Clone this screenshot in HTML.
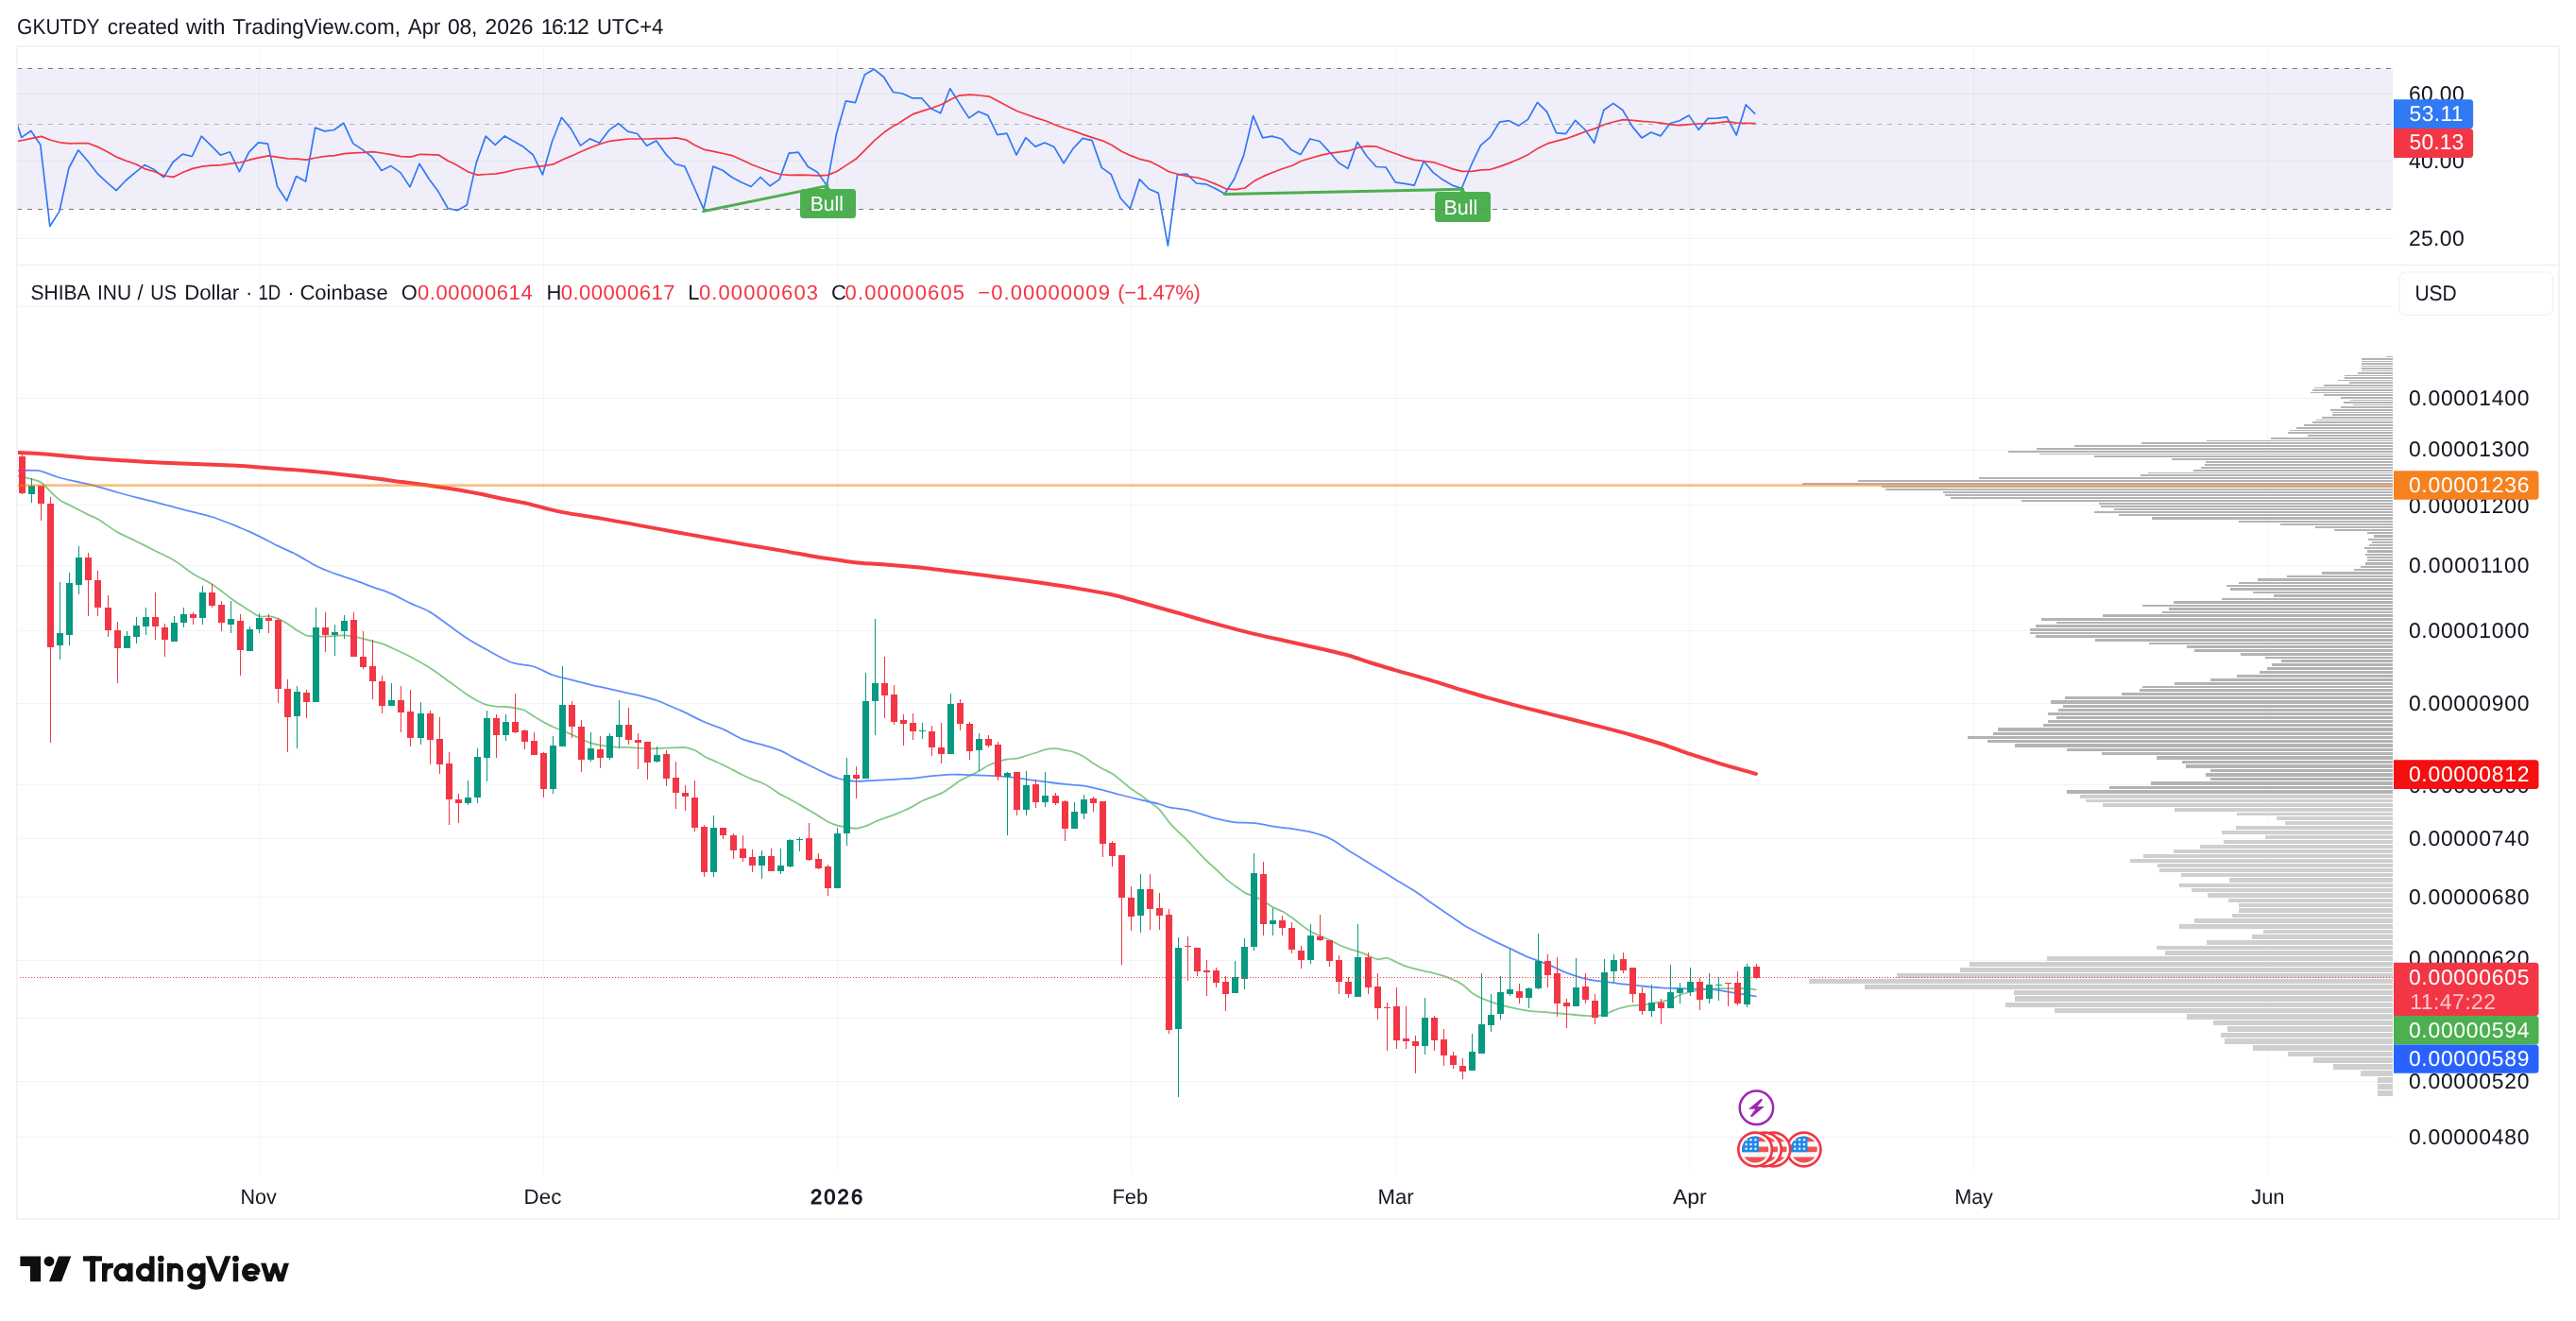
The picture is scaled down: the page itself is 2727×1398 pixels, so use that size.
<!DOCTYPE html>
<html><head><meta charset="utf-8"><title>SHIBUSD chart</title>
<style>html,body{margin:0;padding:0;background:#fff;}body{width:2727px;height:1398px;overflow:hidden;font-family:"Liberation Sans",sans-serif;}svg{display:block;will-change:transform;}text{text-rendering:geometricPrecision;}</style>
</head><body>
<svg width="2727" height="1398" viewBox="0 0 2727 1398" font-family="Liberation Sans, sans-serif">
<rect x="0" y="0" width="2727" height="1398" fill="#fff"/>
<rect x="18" y="72" width="2515" height="149.3" fill="#f0eef9"/>
<rect x="274" y="50" width="1" height="1190" fill="#2a2e39" fill-opacity="0.045"/>
<rect x="575" y="50" width="1" height="1190" fill="#2a2e39" fill-opacity="0.045"/>
<rect x="886" y="50" width="1" height="1190" fill="#2a2e39" fill-opacity="0.045"/>
<rect x="1197" y="50" width="1" height="1190" fill="#2a2e39" fill-opacity="0.045"/>
<rect x="1477" y="50" width="1" height="1190" fill="#2a2e39" fill-opacity="0.045"/>
<rect x="1788" y="50" width="1" height="1190" fill="#2a2e39" fill-opacity="0.045"/>
<rect x="2089" y="50" width="1" height="1190" fill="#2a2e39" fill-opacity="0.045"/>
<rect x="2400" y="50" width="1" height="1190" fill="#2a2e39" fill-opacity="0.045"/>
<rect x="19" y="99" width="2514" height="1" fill="#2a2e39" fill-opacity="0.06"/>
<rect x="19" y="170" width="2514" height="1" fill="#2a2e39" fill-opacity="0.06"/>
<rect x="19" y="252" width="2514" height="1" fill="#2a2e39" fill-opacity="0.06"/>
<rect x="19" y="324" width="2514" height="1" fill="#2a2e39" fill-opacity="0.06"/>
<rect x="19" y="421" width="2514" height="1" fill="#2a2e39" fill-opacity="0.06"/>
<rect x="19" y="476" width="2514" height="1" fill="#2a2e39" fill-opacity="0.06"/>
<rect x="19" y="534" width="2514" height="1" fill="#2a2e39" fill-opacity="0.06"/>
<rect x="19" y="598" width="2514" height="1" fill="#2a2e39" fill-opacity="0.06"/>
<rect x="19" y="667" width="2514" height="1" fill="#2a2e39" fill-opacity="0.06"/>
<rect x="19" y="744" width="2514" height="1" fill="#2a2e39" fill-opacity="0.06"/>
<rect x="19" y="830" width="2514" height="1" fill="#2a2e39" fill-opacity="0.06"/>
<rect x="19" y="887" width="2514" height="1" fill="#2a2e39" fill-opacity="0.06"/>
<rect x="19" y="949" width="2514" height="1" fill="#2a2e39" fill-opacity="0.06"/>
<rect x="19" y="1016" width="2514" height="1" fill="#2a2e39" fill-opacity="0.06"/>
<rect x="19" y="1077" width="2514" height="1" fill="#2a2e39" fill-opacity="0.06"/>
<rect x="19" y="1144" width="2514" height="1" fill="#2a2e39" fill-opacity="0.06"/>
<rect x="19" y="1203" width="2514" height="1" fill="#2a2e39" fill-opacity="0.06"/>
<rect x="19" y="280" width="2689" height="1" fill="#ececee"/>
<clipPath id="cp"><rect x="18" y="50" width="2515" height="1190"/></clipPath>
<g clip-path="url(#cp)">
<rect x="2517" y="1154" width="16" height="6" fill="#cfcfcf"/>
<rect x="2517" y="1147" width="16" height="6" fill="#cfcfcf"/>
<rect x="2517" y="1140" width="16" height="6" fill="#cfcfcf"/>
<rect x="2499" y="1133" width="34" height="6" fill="#cfcfcf"/>
<rect x="2470" y="1126" width="63" height="6" fill="#cfcfcf"/>
<rect x="2449" y="1119" width="84" height="6" fill="#cfcfcf"/>
<rect x="2422" y="1113" width="111" height="5" fill="#cfcfcf"/>
<rect x="2385" y="1106" width="148" height="6" fill="#cfcfcf"/>
<rect x="2355" y="1099" width="178" height="6" fill="#cfcfcf"/>
<rect x="2351" y="1093" width="182" height="5" fill="#cfcfcf"/>
<rect x="2358" y="1086" width="175" height="6" fill="#cfcfcf"/>
<rect x="2343" y="1080" width="190" height="5" fill="#cfcfcf"/>
<rect x="2315" y="1073" width="218" height="6" fill="#cfcfcf"/>
<rect x="2175" y="1067" width="358" height="5" fill="#cfcfcf"/>
<rect x="2123" y="1061" width="410" height="5" fill="#cfcfcf"/>
<rect x="2133" y="1054" width="400" height="6" fill="#cfcfcf"/>
<rect x="2132" y="1048" width="401" height="5" fill="#cfcfcf"/>
<rect x="1974" y="1042" width="559" height="5" fill="#cfcfcf"/>
<rect x="1915" y="1036" width="618" height="5" fill="#cfcfcf"/>
<rect x="2008" y="1030" width="525" height="5" fill="#cfcfcf"/>
<rect x="2075" y="1024" width="458" height="5" fill="#cfcfcf"/>
<rect x="2085" y="1018" width="448" height="5" fill="#cfcfcf"/>
<rect x="2167" y="1012" width="366" height="5" fill="#cfcfcf"/>
<rect x="2292" y="1006" width="241" height="5" fill="#cfcfcf"/>
<rect x="2283" y="1001" width="250" height="4" fill="#cfcfcf"/>
<rect x="2336" y="995" width="197" height="5" fill="#cfcfcf"/>
<rect x="2384" y="989" width="149" height="5" fill="#cfcfcf"/>
<rect x="2396" y="984" width="137" height="4" fill="#cfcfcf"/>
<rect x="2307" y="978" width="226" height="5" fill="#cfcfcf"/>
<rect x="2323" y="972" width="210" height="5" fill="#cfcfcf"/>
<rect x="2363" y="967" width="170" height="4" fill="#cfcfcf"/>
<rect x="2370" y="961" width="163" height="5" fill="#cfcfcf"/>
<rect x="2370" y="956" width="163" height="4" fill="#cfcfcf"/>
<rect x="2359" y="951" width="174" height="4" fill="#cfcfcf"/>
<rect x="2337" y="945" width="196" height="5" fill="#cfcfcf"/>
<rect x="2320" y="940" width="213" height="4" fill="#cfcfcf"/>
<rect x="2307" y="935" width="226" height="4" fill="#cfcfcf"/>
<rect x="2360" y="929" width="173" height="5" fill="#cfcfcf"/>
<rect x="2309" y="924" width="224" height="4" fill="#cfcfcf"/>
<rect x="2286" y="919" width="247" height="4" fill="#cfcfcf"/>
<rect x="2284" y="914" width="249" height="4" fill="#cfcfcf"/>
<rect x="2255" y="909" width="278" height="4" fill="#cfcfcf"/>
<rect x="2269" y="904" width="264" height="4" fill="#cfcfcf"/>
<rect x="2301" y="899" width="232" height="4" fill="#cfcfcf"/>
<rect x="2329" y="894" width="204" height="4" fill="#cfcfcf"/>
<rect x="2354" y="889" width="179" height="4" fill="#cfcfcf"/>
<rect x="2398" y="884" width="135" height="4" fill="#cfcfcf"/>
<rect x="2352" y="879" width="181" height="4" fill="#cfcfcf"/>
<rect x="2367" y="874" width="166" height="4" fill="#cfcfcf"/>
<rect x="2419" y="869" width="114" height="4" fill="#cfcfcf"/>
<rect x="2410" y="864" width="123" height="4" fill="#cfcfcf"/>
<rect x="2368" y="860" width="165" height="3" fill="#cfcfcf"/>
<rect x="2302" y="855" width="231" height="4" fill="#cfcfcf"/>
<rect x="2226" y="850" width="307" height="4" fill="#cfcfcf"/>
<rect x="2208" y="846" width="325" height="3" fill="#cfcfcf"/>
<rect x="2202" y="841" width="331" height="4" fill="#cfcfcf"/>
<rect x="2188" y="836" width="345" height="4" fill="#b3b3b3"/>
<rect x="2233" y="832" width="300" height="3" fill="#b3b3b3"/>
<rect x="2277" y="827" width="256" height="4" fill="#b3b3b3"/>
<rect x="2340" y="823" width="193" height="3" fill="#b3b3b3"/>
<rect x="2335" y="818" width="198" height="4" fill="#b3b3b3"/>
<rect x="2340" y="814" width="193" height="3" fill="#b3b3b3"/>
<rect x="2314" y="809" width="219" height="4" fill="#b3b3b3"/>
<rect x="2310" y="805" width="223" height="3" fill="#b3b3b3"/>
<rect x="2283" y="800" width="250" height="4" fill="#b3b3b3"/>
<rect x="2225" y="796" width="308" height="3" fill="#b3b3b3"/>
<rect x="2188" y="792" width="345" height="3" fill="#b3b3b3"/>
<rect x="2133" y="787" width="400" height="4" fill="#b3b3b3"/>
<rect x="2104" y="783" width="429" height="3" fill="#b3b3b3"/>
<rect x="2083" y="779" width="450" height="3" fill="#b3b3b3"/>
<rect x="2110" y="775" width="423" height="3" fill="#b3b3b3"/>
<rect x="2115" y="770" width="418" height="4" fill="#b3b3b3"/>
<rect x="2163" y="766" width="370" height="3" fill="#b3b3b3"/>
<rect x="2168" y="762" width="365" height="3" fill="#b3b3b3"/>
<rect x="2177" y="758" width="356" height="3" fill="#b3b3b3"/>
<rect x="2168" y="754" width="365" height="3" fill="#b3b3b3"/>
<rect x="2179" y="750" width="354" height="3" fill="#b3b3b3"/>
<rect x="2184" y="746" width="349" height="3" fill="#b3b3b3"/>
<rect x="2171" y="741" width="362" height="4" fill="#b3b3b3"/>
<rect x="2186" y="737" width="347" height="3" fill="#b3b3b3"/>
<rect x="2246" y="733" width="287" height="3" fill="#b3b3b3"/>
<rect x="2265" y="729" width="268" height="3" fill="#b3b3b3"/>
<rect x="2268" y="726" width="265" height="2" fill="#b3b3b3"/>
<rect x="2302" y="722" width="231" height="3" fill="#b3b3b3"/>
<rect x="2340" y="718" width="193" height="3" fill="#b3b3b3"/>
<rect x="2368" y="714" width="165" height="3" fill="#b3b3b3"/>
<rect x="2392" y="710" width="141" height="3" fill="#b3b3b3"/>
<rect x="2400" y="706" width="133" height="3" fill="#b3b3b3"/>
<rect x="2405" y="702" width="128" height="3" fill="#b3b3b3"/>
<rect x="2415" y="698" width="118" height="3" fill="#b3b3b3"/>
<rect x="2398" y="695" width="135" height="2" fill="#b3b3b3"/>
<rect x="2372" y="691" width="161" height="3" fill="#b3b3b3"/>
<rect x="2323" y="687" width="210" height="3" fill="#b3b3b3"/>
<rect x="2315" y="683" width="218" height="3" fill="#b3b3b3"/>
<rect x="2275" y="680" width="258" height="2" fill="#b3b3b3"/>
<rect x="2218" y="676" width="315" height="3" fill="#b3b3b3"/>
<rect x="2155" y="672" width="378" height="3" fill="#b3b3b3"/>
<rect x="2149" y="669" width="384" height="2" fill="#b3b3b3"/>
<rect x="2149" y="665" width="384" height="3" fill="#b3b3b3"/>
<rect x="2155" y="661" width="378" height="3" fill="#b3b3b3"/>
<rect x="2177" y="658" width="356" height="2" fill="#b3b3b3"/>
<rect x="2161" y="654" width="372" height="3" fill="#b3b3b3"/>
<rect x="2226" y="650" width="307" height="3" fill="#b3b3b3"/>
<rect x="2289" y="647" width="244" height="2" fill="#b3b3b3"/>
<rect x="2296" y="643" width="237" height="3" fill="#b3b3b3"/>
<rect x="2268" y="640" width="265" height="2" fill="#b3b3b3"/>
<rect x="2301" y="636" width="232" height="3" fill="#b3b3b3"/>
<rect x="2352" y="633" width="181" height="2" fill="#b3b3b3"/>
<rect x="2407" y="629" width="126" height="3" fill="#b3b3b3"/>
<rect x="2385" y="626" width="148" height="2" fill="#b3b3b3"/>
<rect x="2361" y="622" width="172" height="3" fill="#b3b3b3"/>
<rect x="2357" y="619" width="176" height="2" fill="#b3b3b3"/>
<rect x="2370" y="616" width="163" height="2" fill="#b3b3b3"/>
<rect x="2390" y="612" width="143" height="3" fill="#b3b3b3"/>
<rect x="2421" y="609" width="112" height="2" fill="#b3b3b3"/>
<rect x="2458" y="605" width="75" height="3" fill="#b3b3b3"/>
<rect x="2492" y="602" width="41" height="2" fill="#b3b3b3"/>
<rect x="2499" y="599" width="34" height="2" fill="#b3b3b3"/>
<rect x="2504" y="595" width="29" height="3" fill="#b3b3b3"/>
<rect x="2506" y="592" width="27" height="2" fill="#b3b3b3"/>
<rect x="2506" y="589" width="27" height="2" fill="#b3b3b3"/>
<rect x="2504" y="586" width="29" height="2" fill="#b3b3b3"/>
<rect x="2506" y="582" width="27" height="3" fill="#b3b3b3"/>
<rect x="2503" y="579" width="30" height="2" fill="#b3b3b3"/>
<rect x="2508" y="576" width="25" height="2" fill="#b3b3b3"/>
<rect x="2511" y="573" width="22" height="2" fill="#b3b3b3"/>
<rect x="2507" y="570" width="26" height="2" fill="#b3b3b3"/>
<rect x="2513" y="566" width="20" height="3" fill="#b3b3b3"/>
<rect x="2506" y="563" width="27" height="2" fill="#b3b3b3"/>
<rect x="2471" y="560" width="62" height="2" fill="#b3b3b3"/>
<rect x="2451" y="557" width="82" height="2" fill="#b3b3b3"/>
<rect x="2414" y="554" width="119" height="2" fill="#b3b3b3"/>
<rect x="2370" y="551" width="163" height="2" fill="#b3b3b3"/>
<rect x="2278" y="547" width="255" height="3" fill="#b3b3b3"/>
<rect x="2243" y="544" width="290" height="2" fill="#b3b3b3"/>
<rect x="2217" y="541" width="316" height="2" fill="#b3b3b3"/>
<rect x="2238" y="538" width="295" height="2" fill="#b3b3b3"/>
<rect x="2224" y="535" width="309" height="2" fill="#b3b3b3"/>
<rect x="2222" y="532" width="311" height="2" fill="#b3b3b3"/>
<rect x="2140" y="529" width="393" height="2" fill="#b3b3b3"/>
<rect x="2065" y="526" width="468" height="2" fill="#b3b3b3"/>
<rect x="2059" y="523" width="474" height="2" fill="#b3b3b3"/>
<rect x="2057" y="520" width="476" height="2" fill="#b3b3b3"/>
<rect x="1996" y="517" width="537" height="2" fill="#b3b3b3"/>
<rect x="1992" y="514" width="541" height="2" fill="#b3b3b3"/>
<rect x="1908" y="511" width="625" height="2" fill="#b3b3b3"/>
<rect x="1967" y="508" width="566" height="2" fill="#b3b3b3"/>
<rect x="2095" y="505" width="438" height="2" fill="#b3b3b3"/>
<rect x="2266" y="502" width="267" height="2" fill="#b3b3b3"/>
<rect x="2274" y="500" width="259" height="1" fill="#b3b3b3"/>
<rect x="2322" y="497" width="211" height="2" fill="#b3b3b3"/>
<rect x="2330" y="494" width="203" height="2" fill="#b3b3b3"/>
<rect x="2334" y="491" width="199" height="2" fill="#b3b3b3"/>
<rect x="2335" y="488" width="198" height="2" fill="#b3b3b3"/>
<rect x="2299" y="485" width="234" height="2" fill="#b3b3b3"/>
<rect x="2217" y="482" width="316" height="2" fill="#b3b3b3"/>
<rect x="2159" y="480" width="374" height="1" fill="#b3b3b3"/>
<rect x="2126" y="477" width="407" height="2" fill="#b3b3b3"/>
<rect x="2156" y="474" width="377" height="2" fill="#b3b3b3"/>
<rect x="2196" y="471" width="337" height="2" fill="#b3b3b3"/>
<rect x="2267" y="468" width="266" height="2" fill="#b3b3b3"/>
<rect x="2336" y="466" width="197" height="1" fill="#b3b3b3"/>
<rect x="2404" y="463" width="129" height="2" fill="#b3b3b3"/>
<rect x="2443" y="460" width="90" height="2" fill="#b3b3b3"/>
<rect x="2422" y="457" width="111" height="2" fill="#b3b3b3"/>
<rect x="2424" y="455" width="109" height="1" fill="#b3b3b3"/>
<rect x="2431" y="452" width="102" height="2" fill="#b3b3b3"/>
<rect x="2439" y="449" width="94" height="2" fill="#b3b3b3"/>
<rect x="2448" y="446" width="85" height="2" fill="#b3b3b3"/>
<rect x="2452" y="444" width="81" height="1" fill="#b3b3b3"/>
<rect x="2458" y="441" width="75" height="2" fill="#b3b3b3"/>
<rect x="2469" y="438" width="64" height="2" fill="#b3b3b3"/>
<rect x="2469" y="436" width="64" height="1" fill="#b3b3b3"/>
<rect x="2467" y="433" width="66" height="2" fill="#b3b3b3"/>
<rect x="2478" y="430" width="55" height="2" fill="#b3b3b3"/>
<rect x="2491" y="428" width="42" height="1" fill="#b3b3b3"/>
<rect x="2481" y="425" width="52" height="2" fill="#b3b3b3"/>
<rect x="2488" y="423" width="45" height="1" fill="#b3b3b3"/>
<rect x="2478" y="420" width="55" height="2" fill="#b3b3b3"/>
<rect x="2460" y="417" width="73" height="2" fill="#b3b3b3"/>
<rect x="2446" y="415" width="87" height="1" fill="#b3b3b3"/>
<rect x="2448" y="412" width="85" height="2" fill="#b3b3b3"/>
<rect x="2450" y="410" width="83" height="1" fill="#b3b3b3"/>
<rect x="2460" y="407" width="73" height="2" fill="#b3b3b3"/>
<rect x="2487" y="404" width="46" height="2" fill="#b3b3b3"/>
<rect x="2475" y="402" width="58" height="1" fill="#b3b3b3"/>
<rect x="2482" y="399" width="51" height="2" fill="#b3b3b3"/>
<rect x="2482" y="397" width="51" height="1" fill="#b3b3b3"/>
<rect x="2496" y="394" width="37" height="2" fill="#b3b3b3"/>
<rect x="2500" y="392" width="33" height="1" fill="#b3b3b3"/>
<rect x="2500" y="389" width="33" height="2" fill="#b3b3b3"/>
<rect x="2500" y="387" width="33" height="1" fill="#b3b3b3"/>
<rect x="2500" y="384" width="33" height="2" fill="#b3b3b3"/>
<rect x="2500" y="382" width="33" height="1" fill="#b3b3b3"/>
<rect x="2500" y="379" width="33" height="2" fill="#b3b3b3"/>
<rect x="2526" y="377" width="7" height="1" fill="#b3b3b3"/>
<path d="M18.5,503.7 C21.0,504.3 29.5,505.9 33.7,507.1 C37.9,508.3 40.4,508.5 43.7,510.7 C47.1,512.9 50.4,517.3 53.7,520.5 C57.1,523.6 60.4,527.1 63.8,529.5 C67.1,531.8 68.8,532.1 73.8,534.6 C78.8,537.2 88.9,542.4 93.9,544.9 C98.9,547.4 98.9,546.6 103.9,549.6 C108.9,552.6 117.3,559.1 124.0,562.9 C130.7,566.8 137.3,569.4 144.1,572.7 C150.8,576.1 157.7,579.6 164.4,583.0 C171.1,586.4 177.6,589.0 184.2,593.0 C190.9,597.1 197.6,603.0 204.3,607.2 C211.0,611.4 217.7,613.9 224.4,618.3 C231.0,622.6 239.4,629.5 244.4,633.2 C249.4,636.8 251.1,637.9 254.5,640.1 C257.8,642.4 261.2,644.6 264.5,646.6 C267.8,648.6 271.2,651.3 274.5,652.2 C277.9,653.2 281.2,651.8 284.6,652.2 C287.9,652.7 291.3,653.5 294.6,654.8 C298.0,656.1 301.3,658.1 304.6,660.2 C308.0,662.3 311.3,665.1 314.7,667.2 C318.0,669.2 321.4,671.5 324.7,672.6 C328.1,673.6 331.4,673.4 334.8,673.6 C338.1,673.8 341.4,673.7 344.8,673.6 C348.1,673.5 351.5,673.3 354.8,673.1 C358.2,672.9 361.5,672.2 364.9,672.3 C368.2,672.4 371.6,672.9 374.9,673.6 C378.2,674.2 381.6,675.3 384.9,676.2 C388.3,677.0 391.6,677.9 395.0,678.7 C398.3,679.6 401.7,680.1 405.0,681.3 C408.3,682.5 409.8,683.4 414.8,685.7 C419.8,688.0 428.2,691.7 434.9,695.2 C441.6,698.7 448.3,702.5 455.0,706.8 C461.7,711.1 468.4,716.1 475.1,720.9 C481.8,725.8 490.1,732.2 495.1,735.6 C500.2,739.0 501.8,739.8 505.2,741.5 C508.5,743.2 511.9,744.9 515.2,745.9 C518.6,746.9 521.9,747.4 525.2,747.7 C528.6,748.1 531.9,747.7 535.3,748.0 C538.6,748.2 542.0,748.6 545.3,749.3 C548.7,749.9 552.0,750.3 555.4,751.8 C558.7,753.3 562.0,756.2 565.4,758.3 C568.7,760.3 572.1,762.3 575.4,764.2 C578.8,766.0 582.1,767.8 585.5,769.3 C588.8,770.8 592.2,771.8 595.5,773.2 C598.8,774.6 602.2,776.1 605.5,777.6 C608.9,779.1 612.2,780.7 615.6,782.2 C618.9,783.7 622.3,785.2 625.6,786.3 C629.0,787.4 632.3,788.0 635.6,788.6 C639.0,789.2 642.3,789.5 645.7,789.9 C649.0,790.3 652.4,790.8 655.7,790.9 C659.1,791.1 662.4,790.8 665.8,790.9 C669.1,791.1 672.4,791.5 675.8,791.7 C679.1,791.9 682.5,792.1 685.8,792.2 C689.2,792.3 692.5,792.3 695.9,792.2 C699.2,792.1 702.6,791.9 705.9,791.7 C709.2,791.5 712.6,791.3 715.9,791.2 C719.3,791.1 722.6,790.7 726.0,791.2 C729.3,791.7 732.7,792.7 736.0,794.3 C739.4,795.9 742.7,798.9 746.0,800.7 C749.3,802.5 752.5,803.6 755.8,805.1 C759.1,806.6 762.5,808.1 765.9,809.7 C769.2,811.4 772.5,813.2 775.9,814.9 C779.2,816.6 782.6,818.4 785.9,820.0 C789.3,821.7 792.6,823.3 796.0,824.7 C799.3,826.0 802.7,826.8 806.0,828.3 C809.3,829.8 812.7,831.6 816.0,833.7 C819.4,835.7 822.7,838.6 826.1,840.6 C829.4,842.6 831.0,842.9 836.1,845.8 C841.2,848.6 851.4,854.5 856.5,857.4 C861.5,860.4 863.2,861.3 866.5,863.4 C869.9,865.4 873.2,868.1 876.5,869.8 C879.9,871.5 883.2,872.7 886.6,873.7 C889.9,874.6 893.3,874.9 896.6,875.5 C900.0,876.0 903.3,877.0 906.6,876.7 C910.0,876.5 913.3,875.4 916.7,874.2 C920.0,873.0 923.4,871.0 926.7,869.5 C930.1,868.1 933.4,866.9 936.8,865.7 C940.1,864.4 943.4,863.4 946.8,862.1 C950.1,860.8 953.5,859.5 956.8,858.0 C960.2,856.5 963.5,854.9 966.9,853.1 C970.2,851.3 973.6,848.8 976.9,847.2 C980.2,845.5 983.6,844.6 986.9,843.3 C990.2,842.0 993.4,841.1 996.7,839.4 C1000.0,837.7 1003.4,835.3 1006.8,833.0 C1010.1,830.7 1013.4,827.8 1016.8,825.8 C1020.1,823.8 1023.5,822.6 1026.8,820.9 C1030.2,819.2 1033.5,817.6 1036.9,815.8 C1040.2,813.9 1043.6,811.5 1046.9,809.8 C1050.2,808.2 1053.6,807.1 1056.9,806.0 C1060.3,804.9 1063.6,804.0 1067.0,803.4 C1070.3,802.8 1073.7,803.3 1077.0,802.6 C1080.3,802.0 1083.7,800.6 1087.0,799.5 C1090.4,798.5 1093.7,797.5 1097.1,796.5 C1100.4,795.4 1103.8,793.8 1107.1,793.1 C1110.5,792.4 1113.8,792.0 1117.1,792.1 C1120.5,792.2 1123.8,793.2 1127.2,793.9 C1130.5,794.6 1133.9,795.0 1137.2,796.2 C1140.6,797.4 1143.9,798.9 1147.3,800.8 C1150.6,802.8 1153.9,805.6 1157.3,807.8 C1160.6,809.9 1164.0,811.9 1167.3,813.7 C1170.7,815.5 1174.0,816.7 1177.4,818.8 C1180.7,821.0 1184.1,823.9 1187.4,826.6 C1190.7,829.2 1194.1,832.3 1197.4,834.8 C1200.8,837.3 1204.1,839.1 1207.5,841.5 C1210.8,843.9 1214.2,846.4 1217.5,849.0 C1220.9,851.5 1224.2,853.4 1227.5,856.9 C1230.9,860.5 1234.4,866.4 1237.8,870.3 C1241.1,874.2 1244.4,877.2 1247.8,880.6 C1251.1,883.9 1254.5,886.9 1257.8,890.4 C1261.2,893.8 1264.5,897.7 1267.9,901.2 C1271.2,904.7 1274.5,908.3 1277.9,911.5 C1281.2,914.7 1284.6,917.3 1287.9,920.5 C1291.3,923.6 1294.6,927.3 1298.0,930.3 C1301.3,933.2 1304.7,935.5 1308.0,938.0 C1311.3,940.4 1314.7,943.1 1318.0,944.9 C1321.4,946.7 1324.7,947.3 1328.1,948.8 C1331.4,950.3 1334.8,952.0 1338.1,953.9 C1341.5,955.9 1344.8,958.6 1348.1,960.4 C1351.5,962.2 1354.8,962.9 1358.2,964.7 C1361.5,966.6 1364.9,969.0 1368.2,971.4 C1371.5,973.8 1374.7,976.7 1378.0,979.1 C1381.3,981.6 1384.7,984.2 1388.0,986.1 C1391.4,988.0 1394.7,989.2 1398.1,990.7 C1401.4,992.2 1404.8,993.5 1408.1,995.1 C1411.5,996.7 1414.8,998.7 1418.1,1000.2 C1421.5,1001.7 1424.8,1002.9 1428.2,1004.1 C1431.5,1005.3 1434.9,1006.0 1438.2,1007.2 C1441.6,1008.4 1444.9,1009.7 1448.3,1011.1 C1451.6,1012.4 1454.9,1014.7 1458.3,1015.2 C1461.6,1015.6 1465.0,1013.4 1468.3,1013.9 C1471.7,1014.4 1475.0,1016.8 1478.4,1018.3 C1481.7,1019.7 1485.0,1021.4 1488.4,1022.6 C1491.7,1023.8 1495.1,1024.6 1498.4,1025.5 C1501.8,1026.3 1505.1,1027.0 1508.5,1027.8 C1511.8,1028.6 1515.2,1029.2 1518.5,1030.1 C1521.8,1031.0 1525.2,1031.8 1528.5,1032.9 C1531.9,1034.1 1535.2,1035.5 1538.6,1037.0 C1541.9,1038.6 1545.0,1039.7 1548.6,1042.2 C1552.2,1044.7 1555.1,1049.0 1560.0,1052.0 C1564.9,1055.0 1571.7,1057.9 1578.0,1060.2 C1584.4,1062.6 1591.4,1064.3 1598.1,1065.9 C1604.8,1067.5 1611.5,1068.9 1618.2,1069.8 C1624.8,1070.7 1631.6,1070.8 1638.2,1071.3 C1644.9,1071.9 1651.4,1072.5 1658.0,1073.1 C1664.7,1073.7 1673.1,1074.6 1678.1,1074.9 C1683.1,1075.3 1684.8,1075.3 1688.2,1075.2 C1691.5,1075.0 1694.8,1074.9 1698.2,1073.9 C1701.5,1072.9 1704.9,1070.5 1708.2,1069.3 C1711.6,1068.0 1714.9,1067.0 1718.3,1066.2 C1721.6,1065.3 1725.0,1064.5 1728.3,1064.1 C1731.6,1063.7 1735.0,1063.9 1738.3,1063.6 C1741.7,1063.2 1745.0,1062.6 1748.4,1062.0 C1751.7,1061.5 1755.1,1061.0 1758.4,1060.2 C1761.7,1059.5 1765.1,1058.9 1768.4,1057.7 C1771.8,1056.5 1775.1,1054.3 1778.5,1053.0 C1781.8,1051.8 1785.2,1050.8 1788.5,1050.0 C1791.9,1049.1 1795.2,1048.5 1798.5,1047.9 C1801.9,1047.3 1805.2,1046.9 1808.6,1046.6 C1811.9,1046.3 1815.3,1046.2 1818.6,1046.1 C1822.0,1046.0 1825.3,1046.1 1828.7,1046.1 C1832.0,1046.1 1835.3,1046.1 1838.7,1046.1 C1842.0,1046.1 1845.4,1045.9 1848.7,1046.1 C1852.1,1046.3 1857.1,1047.2 1858.8,1047.4" fill="none" stroke="#84c887" stroke-width="1.8" stroke-opacity="1.0" stroke-linejoin="round" stroke-linecap="round"/>
<path d="M18.5,497.8 C21.4,497.8 31.6,497.7 35.7,497.8 C39.9,498.0 39.2,497.4 43.5,498.6 C47.7,499.8 55.5,503.2 61.5,505.0 C67.5,506.8 73.5,508.0 79.5,509.4 C85.5,510.8 90.1,511.3 97.5,513.3 C104.9,515.2 116.2,518.8 124.0,521.0 C131.8,523.2 137.3,524.7 144.1,526.4 C150.8,528.1 157.7,529.6 164.4,531.3 C171.1,533.0 177.6,534.9 184.2,536.7 C190.9,538.4 197.6,540.1 204.3,541.8 C211.0,543.5 217.7,544.9 224.4,547.0 C231.0,549.1 237.7,551.8 244.4,554.4 C251.1,557.1 259.5,560.7 264.5,562.9 C269.5,565.1 269.5,565.1 274.5,567.6 C279.6,570.1 287.9,574.6 294.6,577.9 C301.3,581.2 308.0,583.9 314.7,587.4 C321.4,590.9 328.1,595.7 334.8,599.0 C341.4,602.3 348.1,604.7 354.8,607.2 C361.5,609.7 368.2,611.5 374.9,613.9 C381.6,616.2 388.3,618.9 395.0,621.3 C401.6,623.8 408.1,625.7 414.8,628.6 C421.4,631.4 428.2,635.4 434.9,638.6 C441.6,641.8 448.3,643.7 455.0,647.6 C461.7,651.5 468.4,657.0 475.1,661.8 C481.8,666.5 488.5,671.6 495.1,675.9 C501.8,680.2 508.5,683.8 515.2,687.5 C521.9,691.2 530.3,695.9 535.3,698.3 C540.3,700.7 540.3,701.0 545.3,702.2 C550.3,703.4 558.7,703.4 565.4,705.5 C572.1,707.6 578.8,712.2 585.5,714.5 C592.2,716.9 598.8,717.9 605.5,719.7 C612.2,721.4 618.9,723.2 625.6,724.8 C632.3,726.4 639.0,727.7 645.7,729.2 C652.4,730.7 660.7,732.7 665.8,733.8 C670.8,734.9 670.8,734.6 675.8,735.9 C680.8,737.2 689.2,739.2 695.9,741.5 C702.6,743.9 710.9,747.9 715.9,750.0 C721.0,752.2 721.0,752.0 726.0,754.4 C731.0,756.8 739.4,761.3 746.0,764.2 C752.7,767.1 759.2,768.9 765.9,771.9 C772.5,774.9 779.2,779.5 785.9,782.2 C792.6,784.9 799.3,785.8 806.0,787.9 C812.7,789.9 820.4,792.0 826.1,794.3 C831.7,796.6 834.9,799.0 840.0,801.6 C845.1,804.2 850.4,806.8 856.5,809.8 C862.6,812.8 871.5,817.3 876.5,819.6 C881.6,821.9 883.2,822.4 886.6,823.5 C889.9,824.5 893.3,825.2 896.6,825.8 C900.0,826.4 901.6,826.8 906.6,826.8 C911.7,826.8 920.0,826.1 926.7,825.8 C933.4,825.5 940.1,825.1 946.8,824.8 C953.5,824.4 960.2,824.3 966.9,823.7 C973.6,823.1 980.3,821.8 986.9,821.2 C993.6,820.5 1000.1,819.8 1006.8,819.6 C1013.4,819.4 1020.1,819.9 1026.8,820.1 C1033.5,820.3 1040.2,820.6 1046.9,820.9 C1053.6,821.2 1060.3,821.5 1067.0,822.2 C1073.7,822.8 1080.3,823.9 1087.0,824.8 C1093.7,825.6 1100.4,826.5 1107.1,827.3 C1113.8,828.2 1120.5,829.2 1127.2,829.9 C1133.9,830.6 1140.6,830.7 1147.3,831.7 C1153.9,832.7 1160.6,834.5 1167.3,836.1 C1174.0,837.7 1180.7,839.8 1187.4,841.5 C1194.1,843.2 1200.8,844.8 1207.5,846.4 C1214.2,848.0 1222.5,849.7 1227.5,851.0 C1232.6,852.3 1232.6,853.3 1237.6,854.4 C1242.6,855.4 1249.3,855.4 1257.7,857.4 C1266.0,859.5 1279.5,864.3 1287.9,866.4 C1296.3,868.6 1301.3,869.5 1308.0,870.3 C1314.7,871.1 1321.4,870.3 1328.1,871.1 C1334.8,871.8 1341.5,873.6 1348.1,874.7 C1354.8,875.7 1361.6,876.3 1368.2,877.2 C1374.9,878.2 1381.4,878.9 1388.0,880.6 C1394.7,882.3 1401.4,884.2 1408.1,887.5 C1414.8,890.8 1421.5,896.2 1428.2,900.4 C1434.9,904.6 1441.6,908.6 1448.3,912.8 C1454.9,916.9 1463.3,922.0 1468.3,925.1 C1473.3,928.2 1473.3,928.5 1478.4,931.5 C1483.4,934.6 1491.7,939.3 1498.4,943.6 C1505.1,948.0 1511.8,953.2 1518.5,957.8 C1525.2,962.4 1533.6,968.0 1538.6,971.4 C1543.6,974.9 1545.0,976.1 1548.6,978.4 C1552.2,980.6 1555.1,982.2 1560.0,984.8 C1564.9,987.5 1571.7,991.0 1578.0,994.1 C1584.4,997.2 1591.4,1000.5 1598.1,1003.6 C1604.8,1006.8 1611.5,1010.4 1618.2,1013.2 C1624.8,1015.9 1631.6,1017.7 1638.2,1020.4 C1644.9,1023.1 1651.4,1026.8 1658.0,1029.4 C1664.7,1031.9 1671.4,1034.2 1678.1,1035.8 C1684.8,1037.4 1691.5,1037.9 1698.2,1038.9 C1704.9,1039.8 1711.6,1040.7 1718.3,1041.5 C1725.0,1042.2 1731.6,1042.9 1738.3,1043.5 C1745.0,1044.2 1751.7,1044.9 1758.4,1045.3 C1765.1,1045.8 1771.8,1045.9 1778.5,1046.1 C1785.2,1046.3 1791.9,1046.3 1798.5,1046.6 C1805.2,1046.9 1811.9,1047.1 1818.6,1047.9 C1825.3,1048.7 1832.0,1050.2 1838.7,1051.2 C1845.4,1052.3 1855.4,1053.8 1858.8,1054.3" fill="none" stroke="#5f8cff" stroke-width="1.8" stroke-opacity="1.0" stroke-linejoin="round" stroke-linecap="round"/>
<path d="M18.0,479.1 C22.2,479.3 35.1,479.7 43.2,480.2 C51.3,480.7 57.8,481.4 66.5,482.2 C75.2,483.0 84.3,484.1 95.6,485.0 C106.9,485.9 121.5,486.8 134.5,487.6 C147.4,488.4 160.4,489.1 173.3,489.7 C186.2,490.3 199.2,490.8 212.1,491.3 C225.0,491.8 240.6,492.3 250.9,492.8 C261.2,493.3 264.5,493.8 274.2,494.5 C283.9,495.3 296.8,496.1 309.1,497.1 C321.4,498.1 335.1,499.3 348.0,500.6 C360.9,502.0 373.9,503.5 386.8,505.1 C399.7,506.6 412.7,508.4 425.6,510.1 C438.5,511.8 452.0,513.5 464.4,515.3 C476.8,517.2 489.2,519.1 500.0,521.1 C510.8,523.0 519.4,525.2 529.1,527.2 C538.8,529.2 550.4,531.1 558.2,532.9 C566.0,534.6 569.2,535.9 575.7,537.5 C582.2,539.1 587.0,540.6 597.0,542.4 C607.0,544.3 622.9,546.4 635.9,548.6 C648.9,550.8 661.8,553.3 674.7,555.6 C687.6,558.0 700.6,560.4 713.5,562.7 C726.4,565.1 739.4,567.4 752.3,569.7 C765.2,572.0 778.1,574.4 791.1,576.6 C804.1,578.8 818.7,581.1 830.0,583.1 C841.3,585.1 849.7,586.9 859.1,588.5 C868.5,590.0 878.2,591.3 886.3,592.5 C894.4,593.6 897.6,594.5 907.6,595.5 C917.6,596.5 935.1,597.3 946.4,598.2 C957.7,599.1 966.6,599.9 975.5,600.8 C984.4,601.8 991.1,602.7 1000.0,603.8 C1008.9,604.8 1019.4,606.0 1029.1,607.2 C1038.8,608.4 1048.5,609.7 1058.2,610.9 C1067.9,612.2 1077.6,613.5 1087.3,614.8 C1097.0,616.1 1106.8,617.5 1116.5,619.0 C1126.2,620.4 1135.9,622.0 1145.6,623.6 C1155.3,625.2 1166.0,626.9 1174.7,628.8 C1183.4,630.6 1189.5,632.6 1197.6,634.8 C1205.7,637.0 1214.1,639.4 1223.2,642.0 C1232.3,644.6 1242.6,647.4 1252.3,650.2 C1262.0,653.0 1271.7,655.9 1281.4,658.7 C1291.1,661.4 1300.9,664.1 1310.6,666.6 C1320.3,669.1 1330.0,671.3 1339.7,673.6 C1349.4,675.8 1359.1,677.8 1368.8,680.0 C1378.5,682.1 1388.2,684.3 1397.9,686.5 C1407.6,688.8 1418.3,691.1 1427.0,693.5 C1435.7,695.9 1441.6,698.3 1450.0,701.0 C1458.4,703.6 1467.3,706.4 1477.5,709.3 C1487.7,712.3 1500.3,715.5 1511.1,718.8 C1521.9,722.0 1531.8,725.4 1542.1,728.6 C1552.4,731.7 1562.8,734.9 1573.2,737.9 C1583.6,740.8 1593.9,743.6 1604.2,746.4 C1614.5,749.1 1625.0,751.7 1635.3,754.3 C1645.6,756.9 1655.9,759.4 1666.3,762.0 C1676.7,764.6 1687.1,767.2 1697.4,769.9 C1707.8,772.6 1718.1,775.3 1728.4,778.2 C1738.8,781.2 1749.5,784.3 1759.5,787.5 C1769.5,790.8 1778.1,794.3 1788.4,797.8 C1798.8,801.2 1809.8,804.8 1821.6,808.4 C1833.3,811.9 1852.7,817.1 1858.9,818.9" fill="none" stroke="#f53d42" stroke-width="4.0" stroke-opacity="1.0" stroke-linejoin="round" stroke-linecap="round"/>
<rect x="23" y="480" width="1" height="43" fill="#f23645"/>
<rect x="20" y="483" width="7" height="39" fill="#f23645"/>
<rect x="33" y="506" width="1" height="26" fill="#089981"/>
<rect x="30" y="514" width="7" height="9" fill="#089981"/>
<rect x="43" y="514" width="1" height="37" fill="#f23645"/>
<rect x="40" y="514" width="7" height="19" fill="#f23645"/>
<rect x="53" y="526" width="1" height="260" fill="#f23645"/>
<rect x="50" y="533" width="7" height="152" fill="#f23645"/>
<rect x="63" y="616" width="1" height="82" fill="#089981"/>
<rect x="60" y="670" width="7" height="13" fill="#089981"/>
<rect x="73" y="606" width="1" height="77" fill="#089981"/>
<rect x="70" y="617" width="7" height="55" fill="#089981"/>
<rect x="83" y="578" width="1" height="51" fill="#089981"/>
<rect x="80" y="590" width="7" height="29" fill="#089981"/>
<rect x="93" y="585" width="1" height="67" fill="#f23645"/>
<rect x="90" y="590" width="7" height="24" fill="#f23645"/>
<rect x="103" y="604" width="1" height="48" fill="#f23645"/>
<rect x="100" y="614" width="7" height="29" fill="#f23645"/>
<rect x="114" y="630" width="1" height="44" fill="#f23645"/>
<rect x="111" y="643" width="7" height="24" fill="#f23645"/>
<rect x="124" y="658" width="1" height="65" fill="#f23645"/>
<rect x="121" y="667" width="7" height="19" fill="#f23645"/>
<rect x="134" y="668" width="1" height="18" fill="#089981"/>
<rect x="131" y="673" width="7" height="13" fill="#089981"/>
<rect x="144" y="653" width="1" height="28" fill="#089981"/>
<rect x="141" y="662" width="7" height="12" fill="#089981"/>
<rect x="154" y="643" width="1" height="29" fill="#089981"/>
<rect x="151" y="653" width="7" height="10" fill="#089981"/>
<rect x="164" y="627" width="1" height="50" fill="#f23645"/>
<rect x="161" y="653" width="7" height="10" fill="#f23645"/>
<rect x="174" y="660" width="1" height="35" fill="#f23645"/>
<rect x="171" y="664" width="7" height="13" fill="#f23645"/>
<rect x="184" y="652" width="1" height="27" fill="#089981"/>
<rect x="181" y="659" width="7" height="20" fill="#089981"/>
<rect x="194" y="643" width="1" height="21" fill="#089981"/>
<rect x="191" y="650" width="7" height="9" fill="#089981"/>
<rect x="204" y="648" width="1" height="13" fill="#f23645"/>
<rect x="201" y="650" width="7" height="4" fill="#f23645"/>
<rect x="214" y="620" width="1" height="41" fill="#089981"/>
<rect x="211" y="627" width="7" height="27" fill="#089981"/>
<rect x="224" y="618" width="1" height="25" fill="#f23645"/>
<rect x="221" y="627" width="7" height="14" fill="#f23645"/>
<rect x="234" y="636" width="1" height="32" fill="#f23645"/>
<rect x="231" y="640" width="7" height="19" fill="#f23645"/>
<rect x="244" y="636" width="1" height="34" fill="#089981"/>
<rect x="241" y="655" width="7" height="6" fill="#089981"/>
<rect x="254" y="650" width="1" height="65" fill="#f23645"/>
<rect x="251" y="657" width="7" height="31" fill="#f23645"/>
<rect x="264" y="663" width="1" height="26" fill="#089981"/>
<rect x="261" y="666" width="7" height="23" fill="#089981"/>
<rect x="274" y="649" width="1" height="21" fill="#089981"/>
<rect x="271" y="654" width="7" height="12" fill="#089981"/>
<rect x="284" y="650" width="1" height="20" fill="#f23645"/>
<rect x="281" y="654" width="7" height="3" fill="#f23645"/>
<rect x="294" y="654" width="1" height="90" fill="#f23645"/>
<rect x="291" y="656" width="7" height="73" fill="#f23645"/>
<rect x="304" y="719" width="1" height="77" fill="#f23645"/>
<rect x="301" y="729" width="7" height="30" fill="#f23645"/>
<rect x="314" y="726" width="1" height="66" fill="#089981"/>
<rect x="311" y="732" width="7" height="26" fill="#089981"/>
<rect x="324" y="730" width="1" height="30" fill="#f23645"/>
<rect x="321" y="733" width="7" height="10" fill="#f23645"/>
<rect x="334" y="643" width="1" height="100" fill="#089981"/>
<rect x="331" y="664" width="7" height="79" fill="#089981"/>
<rect x="344" y="648" width="1" height="42" fill="#f23645"/>
<rect x="341" y="664" width="7" height="8" fill="#f23645"/>
<rect x="354" y="661" width="1" height="33" fill="#089981"/>
<rect x="351" y="669" width="7" height="3" fill="#089981"/>
<rect x="364" y="651" width="1" height="25" fill="#089981"/>
<rect x="361" y="657" width="7" height="11" fill="#089981"/>
<rect x="374" y="648" width="1" height="47" fill="#f23645"/>
<rect x="371" y="656" width="7" height="39" fill="#f23645"/>
<rect x="384" y="668" width="1" height="40" fill="#f23645"/>
<rect x="381" y="695" width="7" height="11" fill="#f23645"/>
<rect x="394" y="677" width="1" height="63" fill="#f23645"/>
<rect x="391" y="705" width="7" height="16" fill="#f23645"/>
<rect x="404" y="715" width="1" height="40" fill="#f23645"/>
<rect x="401" y="721" width="7" height="26" fill="#f23645"/>
<rect x="414" y="723" width="1" height="24" fill="#089981"/>
<rect x="411" y="741" width="7" height="6" fill="#089981"/>
<rect x="424" y="726" width="1" height="49" fill="#f23645"/>
<rect x="421" y="741" width="7" height="13" fill="#f23645"/>
<rect x="434" y="730" width="1" height="60" fill="#f23645"/>
<rect x="431" y="753" width="7" height="28" fill="#f23645"/>
<rect x="445" y="743" width="1" height="45" fill="#089981"/>
<rect x="442" y="755" width="7" height="26" fill="#089981"/>
<rect x="455" y="752" width="1" height="57" fill="#f23645"/>
<rect x="452" y="755" width="7" height="28" fill="#f23645"/>
<rect x="465" y="759" width="1" height="60" fill="#f23645"/>
<rect x="462" y="782" width="7" height="27" fill="#f23645"/>
<rect x="475" y="796" width="1" height="77" fill="#f23645"/>
<rect x="472" y="808" width="7" height="38" fill="#f23645"/>
<rect x="485" y="840" width="1" height="31" fill="#f23645"/>
<rect x="482" y="846" width="7" height="4" fill="#f23645"/>
<rect x="495" y="826" width="1" height="26" fill="#089981"/>
<rect x="492" y="844" width="7" height="6" fill="#089981"/>
<rect x="505" y="792" width="1" height="58" fill="#089981"/>
<rect x="502" y="801" width="7" height="43" fill="#089981"/>
<rect x="515" y="752" width="1" height="75" fill="#089981"/>
<rect x="512" y="760" width="7" height="42" fill="#089981"/>
<rect x="525" y="756" width="1" height="46" fill="#f23645"/>
<rect x="522" y="760" width="7" height="18" fill="#f23645"/>
<rect x="535" y="756" width="1" height="28" fill="#089981"/>
<rect x="532" y="764" width="7" height="14" fill="#089981"/>
<rect x="545" y="734" width="1" height="42" fill="#f23645"/>
<rect x="542" y="764" width="7" height="11" fill="#f23645"/>
<rect x="555" y="772" width="1" height="21" fill="#f23645"/>
<rect x="552" y="773" width="7" height="12" fill="#f23645"/>
<rect x="565" y="775" width="1" height="24" fill="#f23645"/>
<rect x="562" y="784" width="7" height="15" fill="#f23645"/>
<rect x="575" y="796" width="1" height="48" fill="#f23645"/>
<rect x="572" y="797" width="7" height="38" fill="#f23645"/>
<rect x="585" y="779" width="1" height="61" fill="#089981"/>
<rect x="582" y="789" width="7" height="46" fill="#089981"/>
<rect x="595" y="705" width="1" height="85" fill="#089981"/>
<rect x="592" y="746" width="7" height="44" fill="#089981"/>
<rect x="605" y="742" width="1" height="39" fill="#f23645"/>
<rect x="602" y="746" width="7" height="23" fill="#f23645"/>
<rect x="615" y="762" width="1" height="55" fill="#f23645"/>
<rect x="612" y="769" width="7" height="35" fill="#f23645"/>
<rect x="625" y="775" width="1" height="31" fill="#089981"/>
<rect x="622" y="792" width="7" height="12" fill="#089981"/>
<rect x="635" y="779" width="1" height="34" fill="#f23645"/>
<rect x="632" y="793" width="7" height="9" fill="#f23645"/>
<rect x="645" y="776" width="1" height="28" fill="#089981"/>
<rect x="642" y="779" width="7" height="23" fill="#089981"/>
<rect x="655" y="741" width="1" height="51" fill="#089981"/>
<rect x="652" y="767" width="7" height="13" fill="#089981"/>
<rect x="665" y="749" width="1" height="39" fill="#f23645"/>
<rect x="662" y="767" width="7" height="16" fill="#f23645"/>
<rect x="675" y="776" width="1" height="38" fill="#f23645"/>
<rect x="672" y="783" width="7" height="3" fill="#f23645"/>
<rect x="685" y="785" width="1" height="40" fill="#f23645"/>
<rect x="682" y="785" width="7" height="22" fill="#f23645"/>
<rect x="695" y="790" width="1" height="17" fill="#089981"/>
<rect x="692" y="799" width="7" height="7" fill="#089981"/>
<rect x="705" y="794" width="1" height="38" fill="#f23645"/>
<rect x="702" y="798" width="7" height="26" fill="#f23645"/>
<rect x="715" y="806" width="1" height="50" fill="#f23645"/>
<rect x="712" y="823" width="7" height="16" fill="#f23645"/>
<rect x="725" y="831" width="1" height="27" fill="#f23645"/>
<rect x="722" y="839" width="7" height="4" fill="#f23645"/>
<rect x="735" y="826" width="1" height="54" fill="#f23645"/>
<rect x="732" y="844" width="7" height="32" fill="#f23645"/>
<rect x="745" y="873" width="1" height="55" fill="#f23645"/>
<rect x="742" y="875" width="7" height="48" fill="#f23645"/>
<rect x="755" y="863" width="1" height="65" fill="#089981"/>
<rect x="752" y="876" width="7" height="47" fill="#089981"/>
<rect x="765" y="876" width="1" height="12" fill="#f23645"/>
<rect x="762" y="876" width="7" height="8" fill="#f23645"/>
<rect x="776" y="882" width="1" height="27" fill="#f23645"/>
<rect x="773" y="884" width="7" height="16" fill="#f23645"/>
<rect x="786" y="884" width="1" height="28" fill="#f23645"/>
<rect x="783" y="898" width="7" height="10" fill="#f23645"/>
<rect x="796" y="899" width="1" height="24" fill="#f23645"/>
<rect x="793" y="907" width="7" height="9" fill="#f23645"/>
<rect x="806" y="900" width="1" height="30" fill="#089981"/>
<rect x="803" y="906" width="7" height="10" fill="#089981"/>
<rect x="816" y="898" width="1" height="24" fill="#f23645"/>
<rect x="813" y="906" width="7" height="16" fill="#f23645"/>
<rect x="826" y="898" width="1" height="27" fill="#089981"/>
<rect x="823" y="916" width="7" height="6" fill="#089981"/>
<rect x="836" y="888" width="1" height="30" fill="#089981"/>
<rect x="833" y="889" width="7" height="28" fill="#089981"/>
<rect x="846" y="886" width="1" height="15" fill="#089981"/>
<rect x="843" y="888" width="7" height="1" fill="#089981"/>
<rect x="856" y="871" width="1" height="40" fill="#f23645"/>
<rect x="853" y="887" width="7" height="23" fill="#f23645"/>
<rect x="866" y="903" width="1" height="17" fill="#f23645"/>
<rect x="863" y="909" width="7" height="10" fill="#f23645"/>
<rect x="876" y="915" width="1" height="33" fill="#f23645"/>
<rect x="873" y="917" width="7" height="23" fill="#f23645"/>
<rect x="886" y="876" width="1" height="64" fill="#089981"/>
<rect x="883" y="882" width="7" height="58" fill="#089981"/>
<rect x="896" y="802" width="1" height="93" fill="#089981"/>
<rect x="893" y="820" width="7" height="62" fill="#089981"/>
<rect x="906" y="811" width="1" height="34" fill="#f23645"/>
<rect x="903" y="820" width="7" height="4" fill="#f23645"/>
<rect x="916" y="712" width="1" height="112" fill="#089981"/>
<rect x="913" y="742" width="7" height="82" fill="#089981"/>
<rect x="926" y="655" width="1" height="123" fill="#089981"/>
<rect x="923" y="723" width="7" height="19" fill="#089981"/>
<rect x="936" y="695" width="1" height="65" fill="#f23645"/>
<rect x="933" y="723" width="7" height="13" fill="#f23645"/>
<rect x="946" y="725" width="1" height="42" fill="#f23645"/>
<rect x="943" y="735" width="7" height="29" fill="#f23645"/>
<rect x="956" y="756" width="1" height="33" fill="#f23645"/>
<rect x="953" y="762" width="7" height="4" fill="#f23645"/>
<rect x="966" y="755" width="1" height="28" fill="#f23645"/>
<rect x="963" y="765" width="7" height="9" fill="#f23645"/>
<rect x="976" y="765" width="1" height="17" fill="#089981"/>
<rect x="973" y="773" width="7" height="1" fill="#089981"/>
<rect x="986" y="768" width="1" height="32" fill="#f23645"/>
<rect x="983" y="774" width="7" height="17" fill="#f23645"/>
<rect x="996" y="765" width="1" height="43" fill="#f23645"/>
<rect x="993" y="791" width="7" height="7" fill="#f23645"/>
<rect x="1006" y="734" width="1" height="64" fill="#089981"/>
<rect x="1003" y="745" width="7" height="53" fill="#089981"/>
<rect x="1016" y="740" width="1" height="33" fill="#f23645"/>
<rect x="1013" y="744" width="7" height="22" fill="#f23645"/>
<rect x="1026" y="764" width="1" height="40" fill="#f23645"/>
<rect x="1023" y="766" width="7" height="29" fill="#f23645"/>
<rect x="1036" y="776" width="1" height="40" fill="#089981"/>
<rect x="1033" y="782" width="7" height="12" fill="#089981"/>
<rect x="1046" y="778" width="1" height="13" fill="#f23645"/>
<rect x="1043" y="782" width="7" height="7" fill="#f23645"/>
<rect x="1056" y="785" width="1" height="41" fill="#f23645"/>
<rect x="1053" y="788" width="7" height="34" fill="#f23645"/>
<rect x="1066" y="817" width="1" height="67" fill="#089981"/>
<rect x="1063" y="818" width="7" height="4" fill="#089981"/>
<rect x="1076" y="817" width="1" height="46" fill="#f23645"/>
<rect x="1073" y="817" width="7" height="40" fill="#f23645"/>
<rect x="1086" y="816" width="1" height="47" fill="#089981"/>
<rect x="1083" y="831" width="7" height="26" fill="#089981"/>
<rect x="1096" y="825" width="1" height="30" fill="#f23645"/>
<rect x="1093" y="830" width="7" height="19" fill="#f23645"/>
<rect x="1106" y="817" width="1" height="37" fill="#089981"/>
<rect x="1103" y="842" width="7" height="7" fill="#089981"/>
<rect x="1117" y="839" width="1" height="13" fill="#f23645"/>
<rect x="1114" y="842" width="7" height="8" fill="#f23645"/>
<rect x="1127" y="847" width="1" height="43" fill="#f23645"/>
<rect x="1124" y="848" width="7" height="29" fill="#f23645"/>
<rect x="1137" y="849" width="1" height="28" fill="#089981"/>
<rect x="1134" y="859" width="7" height="18" fill="#089981"/>
<rect x="1147" y="841" width="1" height="26" fill="#089981"/>
<rect x="1144" y="846" width="7" height="15" fill="#089981"/>
<rect x="1157" y="843" width="1" height="16" fill="#f23645"/>
<rect x="1154" y="845" width="7" height="5" fill="#f23645"/>
<rect x="1167" y="848" width="1" height="59" fill="#f23645"/>
<rect x="1164" y="848" width="7" height="45" fill="#f23645"/>
<rect x="1177" y="890" width="1" height="27" fill="#f23645"/>
<rect x="1174" y="892" width="7" height="14" fill="#f23645"/>
<rect x="1187" y="905" width="1" height="116" fill="#f23645"/>
<rect x="1184" y="905" width="7" height="45" fill="#f23645"/>
<rect x="1197" y="938" width="1" height="47" fill="#f23645"/>
<rect x="1194" y="950" width="7" height="20" fill="#f23645"/>
<rect x="1207" y="925" width="1" height="62" fill="#089981"/>
<rect x="1204" y="941" width="7" height="28" fill="#089981"/>
<rect x="1217" y="925" width="1" height="59" fill="#f23645"/>
<rect x="1214" y="941" width="7" height="21" fill="#f23645"/>
<rect x="1227" y="945" width="1" height="39" fill="#f23645"/>
<rect x="1224" y="961" width="7" height="8" fill="#f23645"/>
<rect x="1237" y="962" width="1" height="132" fill="#f23645"/>
<rect x="1234" y="968" width="7" height="122" fill="#f23645"/>
<rect x="1247" y="992" width="1" height="169" fill="#089981"/>
<rect x="1244" y="1003" width="7" height="86" fill="#089981"/>
<rect x="1257" y="991" width="1" height="47" fill="#f23645"/>
<rect x="1254" y="1001" width="7" height="1" fill="#f23645"/>
<rect x="1267" y="1003" width="1" height="30" fill="#f23645"/>
<rect x="1264" y="1003" width="7" height="25" fill="#f23645"/>
<rect x="1277" y="1016" width="1" height="38" fill="#f23645"/>
<rect x="1274" y="1027" width="7" height="2" fill="#f23645"/>
<rect x="1287" y="1024" width="1" height="21" fill="#f23645"/>
<rect x="1284" y="1027" width="7" height="13" fill="#f23645"/>
<rect x="1297" y="1033" width="1" height="37" fill="#f23645"/>
<rect x="1294" y="1039" width="7" height="13" fill="#f23645"/>
<rect x="1307" y="1017" width="1" height="34" fill="#089981"/>
<rect x="1304" y="1034" width="7" height="17" fill="#089981"/>
<rect x="1317" y="993" width="1" height="54" fill="#089981"/>
<rect x="1314" y="1002" width="7" height="34" fill="#089981"/>
<rect x="1327" y="903" width="1" height="103" fill="#089981"/>
<rect x="1324" y="924" width="7" height="78" fill="#089981"/>
<rect x="1337" y="912" width="1" height="78" fill="#f23645"/>
<rect x="1334" y="925" width="7" height="53" fill="#f23645"/>
<rect x="1347" y="961" width="1" height="29" fill="#089981"/>
<rect x="1344" y="974" width="7" height="4" fill="#089981"/>
<rect x="1357" y="969" width="1" height="21" fill="#f23645"/>
<rect x="1354" y="974" width="7" height="8" fill="#f23645"/>
<rect x="1367" y="976" width="1" height="33" fill="#f23645"/>
<rect x="1364" y="982" width="7" height="23" fill="#f23645"/>
<rect x="1377" y="1001" width="1" height="24" fill="#f23645"/>
<rect x="1374" y="1006" width="7" height="10" fill="#f23645"/>
<rect x="1387" y="978" width="1" height="42" fill="#089981"/>
<rect x="1384" y="990" width="7" height="26" fill="#089981"/>
<rect x="1397" y="968" width="1" height="28" fill="#f23645"/>
<rect x="1394" y="991" width="7" height="4" fill="#f23645"/>
<rect x="1407" y="995" width="1" height="28" fill="#f23645"/>
<rect x="1404" y="995" width="7" height="22" fill="#f23645"/>
<rect x="1417" y="1011" width="1" height="41" fill="#f23645"/>
<rect x="1414" y="1016" width="7" height="23" fill="#f23645"/>
<rect x="1427" y="1034" width="1" height="22" fill="#f23645"/>
<rect x="1424" y="1039" width="7" height="13" fill="#f23645"/>
<rect x="1437" y="978" width="1" height="77" fill="#089981"/>
<rect x="1434" y="1013" width="7" height="42" fill="#089981"/>
<rect x="1448" y="1008" width="1" height="44" fill="#f23645"/>
<rect x="1445" y="1013" width="7" height="32" fill="#f23645"/>
<rect x="1458" y="1030" width="1" height="49" fill="#f23645"/>
<rect x="1455" y="1044" width="7" height="23" fill="#f23645"/>
<rect x="1468" y="1061" width="1" height="51" fill="#f23645"/>
<rect x="1465" y="1066" width="7" height="1" fill="#f23645"/>
<rect x="1478" y="1045" width="1" height="65" fill="#f23645"/>
<rect x="1475" y="1065" width="7" height="36" fill="#f23645"/>
<rect x="1488" y="1065" width="1" height="45" fill="#f23645"/>
<rect x="1485" y="1099" width="7" height="3" fill="#f23645"/>
<rect x="1498" y="1096" width="1" height="40" fill="#f23645"/>
<rect x="1495" y="1102" width="7" height="5" fill="#f23645"/>
<rect x="1508" y="1056" width="1" height="60" fill="#089981"/>
<rect x="1505" y="1077" width="7" height="30" fill="#089981"/>
<rect x="1518" y="1075" width="1" height="37" fill="#f23645"/>
<rect x="1515" y="1077" width="7" height="24" fill="#f23645"/>
<rect x="1528" y="1089" width="1" height="39" fill="#f23645"/>
<rect x="1525" y="1100" width="7" height="17" fill="#f23645"/>
<rect x="1538" y="1113" width="1" height="18" fill="#f23645"/>
<rect x="1535" y="1117" width="7" height="10" fill="#f23645"/>
<rect x="1548" y="1120" width="1" height="22" fill="#f23645"/>
<rect x="1545" y="1128" width="7" height="6" fill="#f23645"/>
<rect x="1558" y="1094" width="1" height="39" fill="#089981"/>
<rect x="1555" y="1113" width="7" height="20" fill="#089981"/>
<rect x="1568" y="1030" width="1" height="85" fill="#089981"/>
<rect x="1565" y="1084" width="7" height="31" fill="#089981"/>
<rect x="1578" y="1052" width="1" height="40" fill="#089981"/>
<rect x="1575" y="1074" width="7" height="11" fill="#089981"/>
<rect x="1588" y="1033" width="1" height="46" fill="#089981"/>
<rect x="1585" y="1050" width="7" height="23" fill="#089981"/>
<rect x="1598" y="1004" width="1" height="50" fill="#089981"/>
<rect x="1595" y="1047" width="7" height="5" fill="#089981"/>
<rect x="1608" y="1041" width="1" height="21" fill="#f23645"/>
<rect x="1605" y="1049" width="7" height="7" fill="#f23645"/>
<rect x="1618" y="1045" width="1" height="22" fill="#089981"/>
<rect x="1615" y="1046" width="7" height="10" fill="#089981"/>
<rect x="1628" y="988" width="1" height="59" fill="#089981"/>
<rect x="1625" y="1017" width="7" height="29" fill="#089981"/>
<rect x="1638" y="1010" width="1" height="35" fill="#f23645"/>
<rect x="1635" y="1017" width="7" height="15" fill="#f23645"/>
<rect x="1648" y="1013" width="1" height="63" fill="#f23645"/>
<rect x="1645" y="1030" width="7" height="32" fill="#f23645"/>
<rect x="1658" y="1057" width="1" height="31" fill="#f23645"/>
<rect x="1655" y="1061" width="7" height="4" fill="#f23645"/>
<rect x="1668" y="1014" width="1" height="51" fill="#089981"/>
<rect x="1665" y="1045" width="7" height="20" fill="#089981"/>
<rect x="1678" y="1030" width="1" height="32" fill="#f23645"/>
<rect x="1675" y="1044" width="7" height="14" fill="#f23645"/>
<rect x="1688" y="1052" width="1" height="32" fill="#f23645"/>
<rect x="1685" y="1059" width="7" height="18" fill="#f23645"/>
<rect x="1698" y="1015" width="1" height="61" fill="#089981"/>
<rect x="1695" y="1029" width="7" height="47" fill="#089981"/>
<rect x="1708" y="1010" width="1" height="30" fill="#089981"/>
<rect x="1705" y="1016" width="7" height="12" fill="#089981"/>
<rect x="1718" y="1008" width="1" height="22" fill="#f23645"/>
<rect x="1715" y="1015" width="7" height="12" fill="#f23645"/>
<rect x="1728" y="1024" width="1" height="37" fill="#f23645"/>
<rect x="1725" y="1024" width="7" height="28" fill="#f23645"/>
<rect x="1738" y="1045" width="1" height="29" fill="#f23645"/>
<rect x="1735" y="1051" width="7" height="19" fill="#f23645"/>
<rect x="1748" y="1042" width="1" height="34" fill="#089981"/>
<rect x="1745" y="1061" width="7" height="9" fill="#089981"/>
<rect x="1758" y="1057" width="1" height="27" fill="#f23645"/>
<rect x="1755" y="1061" width="7" height="6" fill="#f23645"/>
<rect x="1768" y="1021" width="1" height="46" fill="#089981"/>
<rect x="1765" y="1050" width="7" height="17" fill="#089981"/>
<rect x="1778" y="1040" width="1" height="22" fill="#089981"/>
<rect x="1775" y="1046" width="7" height="5" fill="#089981"/>
<rect x="1789" y="1024" width="1" height="30" fill="#089981"/>
<rect x="1786" y="1039" width="7" height="11" fill="#089981"/>
<rect x="1799" y="1035" width="1" height="34" fill="#f23645"/>
<rect x="1796" y="1039" width="7" height="19" fill="#f23645"/>
<rect x="1809" y="1030" width="1" height="32" fill="#089981"/>
<rect x="1806" y="1042" width="7" height="15" fill="#089981"/>
<rect x="1819" y="1034" width="1" height="25" fill="#089981"/>
<rect x="1816" y="1042" width="7" height="1" fill="#089981"/>
<rect x="1829" y="1040" width="1" height="25" fill="#f23645"/>
<rect x="1826" y="1040" width="7" height="1" fill="#f23645"/>
<rect x="1839" y="1028" width="1" height="36" fill="#f23645"/>
<rect x="1836" y="1040" width="7" height="22" fill="#f23645"/>
<rect x="1849" y="1020" width="1" height="46" fill="#089981"/>
<rect x="1846" y="1023" width="7" height="40" fill="#089981"/>
<rect x="1859" y="1020" width="1" height="16" fill="#f23645"/>
<rect x="1856" y="1023" width="7" height="12" fill="#f23645"/>
<rect x="18" y="512.3" width="2515" height="2.7" fill="#f57c00" fill-opacity="0.5"/>
<line x1="18" y1="1034.5" x2="2533" y2="1034.5" stroke="#f23645" stroke-width="1" stroke-dasharray="1 2"/>
<polyline points="12.7,115.2 22.8,145.4 32.8,138.5 42.8,153.2 52.8,239.5 62.9,223.6 72.9,178.0 82.9,158.8 93.0,170.5 103.0,183.6 113.0,192.9 123.1,201.6 133.1,191.0 143.1,182.6 153.1,174.6 163.2,179.5 173.2,187.7 183.2,171.5 193.3,163.1 203.3,165.5 213.3,144.1 223.3,153.8 233.4,164.2 243.4,160.8 253.4,181.7 263.5,161.2 273.5,150.8 283.5,152.1 293.6,197.5 303.6,212.5 313.6,186.6 323.6,192.0 333.7,135.1 343.7,138.9 353.7,137.5 363.8,130.3 373.8,151.9 383.8,158.4 393.9,166.2 403.9,180.4 413.9,175.6 423.9,182.6 434.0,197.9 444.0,173.3 454.0,189.2 464.1,202.8 474.1,220.5 484.1,222.7 494.2,217.1 504.2,172.4 514.2,144.1 524.2,153.4 534.3,143.9 544.3,149.7 554.3,155.6 564.4,164.0 574.4,184.9 584.4,150.0 594.5,124.3 604.5,136.4 614.5,154.1 624.5,146.9 634.6,151.3 644.6,137.9 654.6,130.7 664.7,139.2 674.7,141.5 684.7,154.3 694.8,149.1 704.8,163.1 714.8,173.5 724.8,176.1 734.9,198.5 744.9,221.4 754.9,176.1 765.0,180.2 775.0,187.7 785.0,192.9 795.1,197.5 805.1,187.5 815.1,196.8 825.1,189.9 835.2,162.1 845.2,161.2 855.2,176.3 865.3,182.3 875.3,196.2 885.3,142.6 895.4,106.8 905.4,108.7 915.4,78.9 925.4,73.3 935.5,81.5 945.5,97.5 955.5,99.0 965.6,103.8 975.6,103.8 985.6,115.0 995.7,119.8 1005.7,93.8 1015.7,109.4 1025.8,124.9 1035.8,118.0 1045.8,122.1 1055.8,142.6 1065.9,141.1 1075.9,164.0 1085.9,145.7 1096.0,155.1 1106.0,151.0 1116.0,155.6 1126.0,172.8 1136.1,157.1 1146.1,146.3 1156.1,148.7 1166.2,177.4 1176.2,184.5 1186.2,209.7 1196.3,220.8 1206.3,189.7 1216.3,200.0 1226.3,204.4 1236.4,260.0 1246.4,184.9 1256.4,184.1 1266.5,194.0 1276.5,194.8 1286.5,199.4 1296.6,205.0 1306.6,189.5 1316.6,164.6 1326.6,122.5 1336.7,145.9 1346.7,144.1 1356.7,147.0 1366.8,158.4 1376.8,163.6 1386.8,147.0 1396.9,149.5 1406.9,160.3 1416.9,172.0 1426.9,178.4 1437.0,150.4 1447.0,165.5 1457.0,176.5 1467.1,177.0 1477.1,192.9 1487.1,194.4 1497.2,196.2 1507.2,170.5 1517.2,182.6 1527.2,190.1 1537.3,196.1 1547.3,199.4 1557.3,175.2 1567.4,153.8 1577.4,145.4 1587.4,129.2 1597.5,127.7 1607.5,133.1 1617.5,126.4 1627.5,108.3 1637.6,118.4 1647.6,140.7 1657.6,141.6 1667.7,127.3 1677.7,137.0 1687.7,151.3 1697.8,116.5 1707.8,109.4 1717.8,116.5 1727.8,133.6 1737.9,145.9 1747.9,140.0 1757.9,143.9 1768.0,130.5 1778.0,127.7 1788.0,122.1 1798.1,137.4 1808.1,125.4 1818.1,125.2 1828.1,123.9 1838.2,143.0 1848.2,110.9 1858.2,120.6" fill="none" stroke="#3179f5" stroke-width="1.7" stroke-linejoin="round"/>
<polyline points="18.0,149.7 23.6,148.5 33.7,146.3 43.7,144.4 53.6,148.2 63.7,150.8 73.7,151.9 83.8,151.5 93.7,151.7 103.7,155.6 113.8,160.7 123.9,166.4 133.7,170.2 143.8,173.7 153.9,178.9 163.9,181.7 174.0,186.0 183.9,187.3 193.9,182.3 204.0,178.4 214.0,176.1 224.1,175.2 234.2,174.6 244.0,173.1 254.1,172.0 264.2,169.2 274.2,166.8 284.3,164.9 294.3,166.4 304.2,167.9 314.3,168.1 324.3,169.2 334.4,167.0 344.5,165.3 354.3,164.6 364.4,162.7 374.5,161.8 384.5,161.4 394.6,160.7 404.5,162.0 414.5,163.6 424.6,165.7 434.7,166.1 444.7,163.3 454.6,163.6 464.7,164.2 474.7,170.5 480.0,172.8 485.2,175.7 495.3,181.7 505.2,185.1 515.2,184.5 525.3,183.9 535.3,182.1 545.4,179.5 555.3,178.0 565.3,176.7 575.4,175.7 585.5,173.9 595.5,169.0 605.4,164.9 615.5,160.3 625.5,156.0 635.6,152.3 645.7,149.3 655.5,148.2 665.6,147.0 675.7,147.0 685.7,147.0 695.8,146.7 705.7,146.7 715.7,145.9 725.8,147.8 735.8,153.8 745.9,158.4 755.8,160.3 765.8,162.5 775.9,164.9 786.0,169.6 796.0,174.3 805.9,178.0 816.0,181.7 826.0,184.5 836.1,185.4 846.1,185.2 856.0,185.4 866.1,185.8 876.1,185.4 886.2,181.3 896.3,174.6 906.1,168.3 916.2,158.4 926.3,148.2 936.3,139.8 946.4,132.9 950.0,131.4 956.9,126.7 967.0,120.6 976.8,117.4 986.9,114.3 997.0,110.5 1007.0,104.9 1015.2,101.2 1027.0,100.1 1037.0,101.0 1047.1,102.1 1057.1,107.2 1067.2,112.8 1077.1,117.8 1087.1,121.3 1097.2,124.9 1107.3,128.0 1117.3,132.3 1127.2,135.7 1137.3,138.9 1147.3,142.6 1157.4,145.9 1167.5,149.1 1177.3,153.8 1187.4,160.3 1197.5,164.9 1207.5,168.7 1217.6,170.9 1227.5,176.1 1237.5,181.7 1247.6,184.5 1257.6,186.7 1267.7,188.0 1277.6,191.0 1287.6,195.1 1297.7,199.8 1307.8,200.7 1317.8,199.0 1327.7,191.6 1337.8,186.4 1347.8,182.3 1357.9,178.5 1368.0,175.2 1377.8,170.2 1387.9,167.2 1398.0,164.4 1408.0,162.1 1418.1,160.8 1427.6,159.7 1437.7,156.2 1447.8,154.7 1457.6,155.2 1467.7,159.3 1477.8,162.7 1487.8,166.4 1497.9,169.4 1507.8,170.5 1517.8,171.8 1527.9,175.2 1538.0,178.9 1548.0,181.3 1557.9,181.3 1568.0,179.8 1578.0,179.3 1588.1,176.1 1598.1,172.4 1608.0,168.3 1618.1,163.4 1628.1,156.9 1638.2,151.9 1648.3,149.1 1658.1,146.7 1668.2,143.1 1678.3,139.2 1688.3,136.1 1698.4,131.8 1708.3,129.0 1718.3,126.7 1728.4,127.3 1738.4,128.4 1748.5,129.0 1758.4,130.1 1768.4,131.8 1778.5,132.7 1788.6,131.6 1798.6,131.0 1808.5,130.7 1818.6,129.9 1828.6,128.6 1838.7,130.1 1848.8,130.3 1858.6,130.7" fill="none" stroke="#f23645" stroke-width="1.7" stroke-linejoin="round"/>
<line x1="744.6" y1="223.6" x2="876" y2="196.6" stroke="#4caf50" stroke-width="3" stroke-linecap="round"/>
<line x1="1296" y1="205.4" x2="1548.6" y2="200.3" stroke="#4caf50" stroke-width="3" stroke-linecap="round"/>
<rect x="847" y="200.1" width="59" height="30.8" rx="3.5" fill="#4caf50"/>
<polygon points="871.6,200.8 875.4,195.4 879.6,200.8" fill="#4caf50"/>
<polygon points="1545.0,203.6 1548.3,198.8 1551.8,203.6" fill="#4caf50"/>
<rect x="1519.1" y="203.0" width="58.9" height="32.0" rx="3.5" fill="#4caf50"/>
<line x1="18" y1="72.5" x2="2533" y2="72.5" stroke="#787b86" stroke-width="1.1" stroke-dasharray="5 6"/>
<line x1="18" y1="131.5" x2="2533" y2="131.5" stroke="#787b86" stroke-opacity="0.55" stroke-width="1.1" stroke-dasharray="5 6"/>
<line x1="18" y1="221.5" x2="2533" y2="221.5" stroke="#787b86" stroke-width="1.1" stroke-dasharray="5 6"/>
</g>
<text x="857.7" y="223.1" font-size="21.8" fill="#fff" textLength="35.3" lengthAdjust="spacingAndGlyphs">Bull</text>
<text x="1528.5" y="227.0" font-size="21.8" fill="#fff" textLength="35.7" lengthAdjust="spacingAndGlyphs">Bull</text>
<circle cx="1859.4" cy="1172.3" r="17.7" fill="#fff" stroke="#9c27b0" stroke-width="2.5"/>
<polygon points="1864.2,1162.7 1866.1,1163.7 1860.5,1171.0 1867.9,1171.0 1854.6,1182.3 1853.0,1181.0 1858.3,1173.8 1850.9,1173.8" fill="#9c27b0"/>
<defs><clipPath id="fc"><circle cx="0" cy="0" r="14.1"/></clipPath></defs>
<g transform="translate(1909.6,1216.5)"><circle cx="0" cy="0" r="17.8" fill="#fff" stroke="#f23645" stroke-width="2.7"/><g clip-path="url(#fc)"><rect x="-15" y="-15" width="30" height="30" fill="#f7f8fd"/><rect x="-15" y="-13.9" width="30" height="5.6" fill="#ef5350"/><rect x="-15" y="-3" width="30" height="5.7" fill="#ef5350"/><rect x="-15" y="8" width="30" height="7" fill="#ef5350"/><rect x="-15" y="-15" width="18.8" height="17.7" fill="#1e88e5"/><circle cx="-9.5" cy="-10.2" r="1.3" fill="#e8f1fd"/><circle cx="-9.5" cy="-5.4" r="1.3" fill="#e8f1fd"/><circle cx="-9.5" cy="-0.7" r="1.3" fill="#e8f1fd"/><circle cx="-4.6" cy="-10.2" r="1.3" fill="#e8f1fd"/><circle cx="-4.6" cy="-5.4" r="1.3" fill="#e8f1fd"/><circle cx="-4.6" cy="-0.7" r="1.3" fill="#e8f1fd"/><circle cx="0.3" cy="-10.2" r="1.3" fill="#e8f1fd"/><circle cx="0.3" cy="-5.4" r="1.3" fill="#e8f1fd"/><circle cx="0.3" cy="-0.7" r="1.3" fill="#e8f1fd"/></g></g>
<g transform="translate(1877.4,1216.5)"><circle cx="0" cy="0" r="17.8" fill="#fff" stroke="#f23645" stroke-width="2.7"/><g clip-path="url(#fc)"><rect x="-15" y="-15" width="30" height="30" fill="#f7f8fd"/><rect x="-15" y="-13.9" width="30" height="5.6" fill="#ef5350"/><rect x="-15" y="-3" width="30" height="5.7" fill="#ef5350"/><rect x="-15" y="8" width="30" height="7" fill="#ef5350"/><rect x="-15" y="-15" width="18.8" height="17.7" fill="#1e88e5"/><circle cx="-9.5" cy="-10.2" r="1.3" fill="#e8f1fd"/><circle cx="-9.5" cy="-5.4" r="1.3" fill="#e8f1fd"/><circle cx="-9.5" cy="-0.7" r="1.3" fill="#e8f1fd"/><circle cx="-4.6" cy="-10.2" r="1.3" fill="#e8f1fd"/><circle cx="-4.6" cy="-5.4" r="1.3" fill="#e8f1fd"/><circle cx="-4.6" cy="-0.7" r="1.3" fill="#e8f1fd"/><circle cx="0.3" cy="-10.2" r="1.3" fill="#e8f1fd"/><circle cx="0.3" cy="-5.4" r="1.3" fill="#e8f1fd"/><circle cx="0.3" cy="-0.7" r="1.3" fill="#e8f1fd"/></g></g>
<g transform="translate(1867.9,1216.5)"><circle cx="0" cy="0" r="17.8" fill="#fff" stroke="#f23645" stroke-width="2.7"/><g clip-path="url(#fc)"><rect x="-15" y="-15" width="30" height="30" fill="#f7f8fd"/><rect x="-15" y="-13.9" width="30" height="5.6" fill="#ef5350"/><rect x="-15" y="-3" width="30" height="5.7" fill="#ef5350"/><rect x="-15" y="8" width="30" height="7" fill="#ef5350"/><rect x="-15" y="-15" width="18.8" height="17.7" fill="#1e88e5"/><circle cx="-9.5" cy="-10.2" r="1.3" fill="#e8f1fd"/><circle cx="-9.5" cy="-5.4" r="1.3" fill="#e8f1fd"/><circle cx="-9.5" cy="-0.7" r="1.3" fill="#e8f1fd"/><circle cx="-4.6" cy="-10.2" r="1.3" fill="#e8f1fd"/><circle cx="-4.6" cy="-5.4" r="1.3" fill="#e8f1fd"/><circle cx="-4.6" cy="-0.7" r="1.3" fill="#e8f1fd"/><circle cx="0.3" cy="-10.2" r="1.3" fill="#e8f1fd"/><circle cx="0.3" cy="-5.4" r="1.3" fill="#e8f1fd"/><circle cx="0.3" cy="-0.7" r="1.3" fill="#e8f1fd"/></g></g>
<g transform="translate(1858.1,1216.5)"><circle cx="0" cy="0" r="17.8" fill="#fff" stroke="#f23645" stroke-width="2.7"/><g clip-path="url(#fc)"><rect x="-15" y="-15" width="30" height="30" fill="#f7f8fd"/><rect x="-15" y="-13.9" width="30" height="5.6" fill="#ef5350"/><rect x="-15" y="-3" width="30" height="5.7" fill="#ef5350"/><rect x="-15" y="8" width="30" height="7" fill="#ef5350"/><rect x="-15" y="-15" width="18.8" height="17.7" fill="#1e88e5"/><circle cx="-9.5" cy="-10.2" r="1.3" fill="#e8f1fd"/><circle cx="-9.5" cy="-5.4" r="1.3" fill="#e8f1fd"/><circle cx="-9.5" cy="-0.7" r="1.3" fill="#e8f1fd"/><circle cx="-4.6" cy="-10.2" r="1.3" fill="#e8f1fd"/><circle cx="-4.6" cy="-5.4" r="1.3" fill="#e8f1fd"/><circle cx="-4.6" cy="-0.7" r="1.3" fill="#e8f1fd"/><circle cx="0.3" cy="-10.2" r="1.3" fill="#e8f1fd"/><circle cx="0.3" cy="-5.4" r="1.3" fill="#e8f1fd"/><circle cx="0.3" cy="-0.7" r="1.3" fill="#e8f1fd"/></g></g>
<rect x="18" y="49" width="2691" height="1241" fill="none" stroke="#f3f3f4" stroke-width="2"/>
<text x="2549.9" y="429.0" font-size="22.9" fill="#131722" textLength="127.5" lengthAdjust="spacing">0.00001400</text>
<text x="2549.9" y="483.1" font-size="22.9" fill="#131722" textLength="127.5" lengthAdjust="spacing">0.00001300</text>
<text x="2549.9" y="543.0" font-size="22.9" fill="#131722" textLength="127.5" lengthAdjust="spacing">0.00001200</text>
<text x="2549.9" y="605.5" font-size="22.9" fill="#131722" textLength="127.5" lengthAdjust="spacing">0.00001100</text>
<text x="2549.9" y="675.1" font-size="22.9" fill="#131722" textLength="127.5" lengthAdjust="spacing">0.00001000</text>
<text x="2549.9" y="752.0" font-size="22.9" fill="#131722" textLength="127.5" lengthAdjust="spacing">0.00000900</text>
<text x="2549.9" y="838.5" font-size="22.9" fill="#131722" textLength="127.5" lengthAdjust="spacing">0.00000800</text>
<text x="2549.9" y="895.4" font-size="22.9" fill="#131722" textLength="127.5" lengthAdjust="spacing">0.00000740</text>
<text x="2549.9" y="956.7" font-size="22.9" fill="#131722" textLength="127.5" lengthAdjust="spacing">0.00000680</text>
<text x="2549.9" y="1022.0" font-size="22.9" fill="#131722" textLength="127.5" lengthAdjust="spacing">0.00000620</text>
<text x="2549.9" y="1152.4" font-size="22.9" fill="#131722" textLength="127.5" lengthAdjust="spacing">0.00000520</text>
<text x="2549.9" y="1210.6" font-size="22.9" fill="#131722" textLength="127.5" lengthAdjust="spacing">0.00000480</text>
<path d="M2534,498.3 H2684.0 Q2687.5,498.3 2687.5,501.8 V525.3 Q2687.5,528.8 2684.0,528.8 H2534 Z" fill="#f5811f"/>
<text x="2549.9" y="521.3" font-size="22.9" fill="#fff" textLength="127.5" lengthAdjust="spacing">0.00001236</text>
<path d="M2534,804.2 H2684.0 Q2687.5,804.2 2687.5,807.7 V831.4 Q2687.5,834.9 2684.0,834.9 H2534 Z" fill="#f40f10"/>
<text x="2549.9" y="827.4" font-size="22.9" fill="#fff" textLength="127.5" lengthAdjust="spacing">0.00000812</text>
<path d="M2534,1018.8 H2684.0 Q2687.5,1018.8 2687.5,1022.3 V1071.5 Q2687.5,1075 2684.0,1075 H2534 Z" fill="#f23645"/>
<text x="2549.9" y="1042.2" font-size="22.9" fill="#fff" textLength="127.5" lengthAdjust="spacing">0.00000605</text>
<text x="2551.2" y="1067.7" font-size="22.9" fill="#fff" textLength="90.8" lengthAdjust="spacing" fill-opacity="0.72">11:47:22</text>
<path d="M2534,1075 H2684.0 Q2687.5,1075 2687.5,1078.5 V1102.0 Q2687.5,1105.5 2684.0,1105.5 H2534 Z" fill="#4caf50"/>
<text x="2549.9" y="1097.9" font-size="22.9" fill="#fff" textLength="127.5" lengthAdjust="spacing">0.00000594</text>
<path d="M2534,1105.5 H2684.0 Q2687.5,1105.5 2687.5,1109.0 V1132.3 Q2687.5,1135.8 2684.0,1135.8 H2534 Z" fill="#2962ff"/>
<text x="2549.9" y="1128.2" font-size="22.9" fill="#fff" textLength="127.5" lengthAdjust="spacing">0.00000589</text>
<text x="2549.9" y="106.7" font-size="22.9" fill="#131722" textLength="58.8" lengthAdjust="spacing">60.00</text>
<text x="2549.9" y="178.2" font-size="22.9" fill="#131722" textLength="58.8" lengthAdjust="spacing">40.00</text>
<text x="2549.9" y="260.3" font-size="22.9" fill="#131722" textLength="58.8" lengthAdjust="spacing">25.00</text>
<path d="M2534,105.2 H2614.6 Q2618.1,105.2 2618.1,108.7 V132.4 Q2618.1,135.9 2614.6,135.9 H2534 Z" fill="#3179f5"/>
<text x="2550.6" y="128.0" font-size="22.9" fill="#fff" textLength="56.9" lengthAdjust="spacing">53.11</text>
<path d="M2534,135.9 H2614.6 Q2618.1,135.9 2618.1,139.4 V163.4 Q2618.1,166.9 2614.6,166.9 H2534 Z" fill="#f23645"/>
<text x="2550.6" y="158.4" font-size="22.9" fill="#fff" textLength="57.6" lengthAdjust="spacing">50.13</text>
<rect x="2540" y="288" width="162.5" height="45.3" rx="6.5" fill="#fff" stroke="#f0f0f2" stroke-width="1.2"/>
<text x="2556.4" y="317.6" font-size="22.9" fill="#131722" textLength="44.4" lengthAdjust="spacingAndGlyphs">USD</text>
<text x="254.4" y="1273.9" font-size="22.0" fill="#131722" textLength="38.3" lengthAdjust="spacingAndGlyphs">Nov</text>
<text x="554.6" y="1273.9" font-size="22.0" fill="#131722" textLength="39.7" lengthAdjust="spacingAndGlyphs">Dec</text>
<text x="1177.5" y="1273.9" font-size="22.0" fill="#131722" textLength="37.7" lengthAdjust="spacingAndGlyphs">Feb</text>
<text x="1458.5" y="1273.9" font-size="22.0" fill="#131722" textLength="38.2" lengthAdjust="spacingAndGlyphs">Mar</text>
<text x="1770.9" y="1273.9" font-size="22.0" fill="#131722" textLength="35.7" lengthAdjust="spacingAndGlyphs">Apr</text>
<text x="2069.2" y="1273.9" font-size="22.0" fill="#131722" textLength="40.7" lengthAdjust="spacingAndGlyphs">May</text>
<text x="2383.2" y="1273.9" font-size="22.0" fill="#131722" textLength="35.3" lengthAdjust="spacingAndGlyphs">Jun</text>
<text x="858.0" y="1273.8" font-size="21.9" fill="#131722" textLength="55.1" lengthAdjust="spacing" stroke="#131722" stroke-width="1.0">2026</text>
<text x="18.1" y="36.0" font-size="22.9" fill="#131722" textLength="87.5" lengthAdjust="spacingAndGlyphs">GKUTDY</text>
<text x="113.7" y="36.0" font-size="22.9" fill="#131722" textLength="75.8" lengthAdjust="spacingAndGlyphs">created</text>
<text x="197.0" y="36.0" font-size="22.9" fill="#131722" textLength="41.4" lengthAdjust="spacingAndGlyphs">with</text>
<text x="246.2" y="36.0" font-size="22.9" fill="#131722" textLength="177.8" lengthAdjust="spacingAndGlyphs">TradingView.com,</text>
<text x="432.1" y="36.0" font-size="22.9" fill="#131722" textLength="34.1" lengthAdjust="spacingAndGlyphs">Apr</text>
<text x="474.0" y="36.0" font-size="22.9" fill="#131722" textLength="31.3" lengthAdjust="spacing">08,</text>
<text x="513.4" y="36.0" font-size="22.9" fill="#131722" textLength="51.2" lengthAdjust="spacing">2026</text>
<text x="572.7" y="36.0" font-size="22.9" fill="#131722" textLength="51.1" lengthAdjust="spacing">16:12</text>
<text x="631.9" y="36.0" font-size="22.9" fill="#131722" textLength="70.4" lengthAdjust="spacingAndGlyphs">UTC+4</text>
<text x="32.5" y="316.8" font-size="22.0" fill="#131722" textLength="63.1" lengthAdjust="spacingAndGlyphs">SHIBA</text>
<text x="103.0" y="316.8" font-size="22.0" fill="#131722" textLength="36.1" lengthAdjust="spacingAndGlyphs">INU</text>
<text x="145.5" y="316.8" font-size="22.0" fill="#131722">/</text>
<text x="159.3" y="316.8" font-size="22.0" fill="#131722" textLength="27.7" lengthAdjust="spacingAndGlyphs">US</text>
<text x="195.2" y="316.8" font-size="22.0" fill="#131722" textLength="58.0" lengthAdjust="spacingAndGlyphs">Dollar</text>
<text x="259.9" y="316.8" font-size="22.0" fill="#131722">·</text>
<text x="273.4" y="316.8" font-size="22.0" fill="#131722" textLength="23.8" lengthAdjust="spacingAndGlyphs">1D</text>
<text x="304.2" y="316.8" font-size="22.0" fill="#131722">·</text>
<text x="317.4" y="316.8" font-size="22.0" fill="#131722" textLength="93.3" lengthAdjust="spacingAndGlyphs">Coinbase</text>
<text x="424.8" y="316.8" font-size="22.0" fill="#131722">O</text>
<text x="441.9" y="316.8" font-size="22.0" fill="#f23645" textLength="121.8" lengthAdjust="spacing">0.00000614</text>
<text x="578.5" y="316.8" font-size="22.0" fill="#131722">H</text>
<text x="593.7" y="316.8" font-size="22.0" fill="#f23645" textLength="120.9" lengthAdjust="spacing">0.00000617</text>
<text x="728.2" y="316.8" font-size="22.0" fill="#131722">L</text>
<text x="740.0" y="316.8" font-size="22.0" fill="#f23645" textLength="126.0" lengthAdjust="spacing">0.00000603</text>
<text x="880.1" y="316.8" font-size="22.0" fill="#131722">C</text>
<text x="894.5" y="316.8" font-size="22.0" fill="#f23645" textLength="126.5" lengthAdjust="spacing">0.00000605</text>
<text x="1035.3" y="316.8" font-size="22.0" fill="#f23645" textLength="139.6" lengthAdjust="spacing">−0.00000009</text>
<text x="1183.2" y="316.8" font-size="22.0" fill="#f23645" textLength="87.6" lengthAdjust="spacing">(−1.47%)</text>
<polygon points="21.4,1329.5 43.1,1329.5 43.1,1356.2 32,1356.2 32,1340.1 21.4,1340.1" fill="#0f0f0f"/>
<circle cx="52" cy="1334.8" r="5.4" fill="#0f0f0f"/>
<polygon points="62.1,1329.5 75.3,1329.5 65,1356.2 52,1356.2" fill="#0f0f0f"/>
<g transform="translate(80,1320) scale(0.09317)" fill="#101010" stroke="none">
<rect x="85" y="100" width="215" height="58"/><rect x="163" y="100" width="62" height="290"/>
<rect x="300" y="180" width="58" height="210"/><path d="M329,300 Q329,207 410,207 H428" fill="none" stroke="#101010" stroke-width="56"/>
<circle cx="537" cy="285" r="76" fill="none" stroke="#101010" stroke-width="58"/><rect x="592" y="180" width="58" height="210"/>
<circle cx="790" cy="285" r="76" fill="none" stroke="#101010" stroke-width="58"/><rect x="838" y="100" width="58" height="290"/>
<rect x="940" y="180" width="58" height="210"/><circle cx="969" cy="130" r="37"/>
<rect x="1040" y="180" width="58" height="210"/><path d="M1069,300 V270 A62.5,62.5 0 0 1 1194,270 V390" fill="none" stroke="#101010" stroke-width="58"/>
<circle cx="1370" cy="285" r="76" fill="none" stroke="#101010" stroke-width="58"/><path d="M1447,180 V395 Q1447,452 1372,452 Q1315,452 1290,418" fill="none" stroke="#101010" stroke-width="58"/>
<polygon points="1478,100 1543,100 1622,305 1700,100 1765,100 1651,390 1592,390"/>
<rect x="1790" y="180" width="58" height="210"/><circle cx="1819" cy="130" r="37"/>
<path d="M2071,283 A76,76 0 1 0 2055,332" fill="none" stroke="#101010" stroke-width="58"/><path d="M1930,290 H2086" fill="none" stroke="#101010" stroke-width="46"/>
<clipPath id="wclip"><rect x="2090" y="180" width="350" height="210"/></clipPath>
<path clip-path="url(#wclip)" d="M2128,160 L2199,395 L2265,200 L2331,395 L2402,160" fill="none" stroke="#101010" stroke-width="56" stroke-linejoin="miter" stroke-miterlimit="10"/>
</g>
</svg>
</body></html>
